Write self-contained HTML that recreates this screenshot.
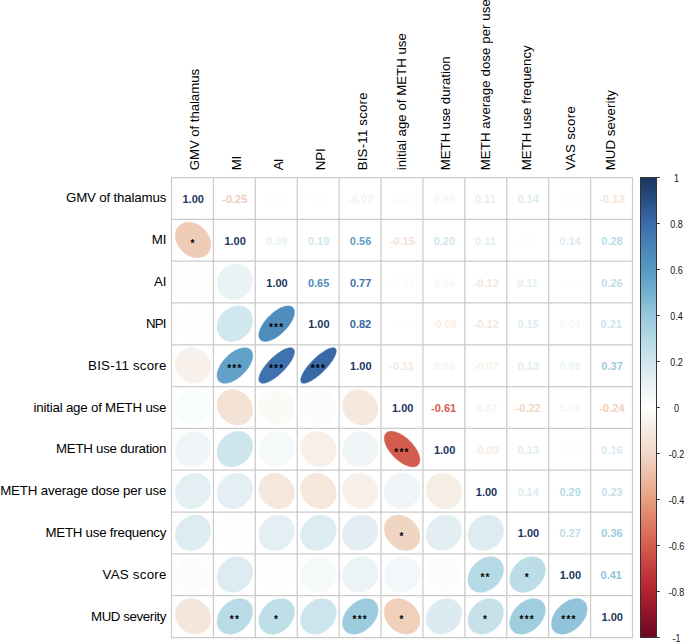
<!DOCTYPE html><html><head><meta charset="utf-8"><style>html,body{margin:0;padding:0;background:#fff;overflow:hidden}svg{display:block}text{font-family:"Liberation Sans",sans-serif}</style></head><body>
<svg width="685" height="642" viewBox="0 0 685 642">
<rect width="685" height="642" fill="#fff"/>
<path d="M203.96,229.14 203.04,228.27 202.07,227.44 201.07,226.66 200.03,225.94 198.97,225.27 197.88,224.67 196.77,224.13 195.65,223.65 194.51,223.24 193.37,222.90 192.23,222.63 191.09,222.43 189.96,222.31 188.85,222.26 187.75,222.28 186.67,222.37 185.62,222.54 184.59,222.77 183.61,223.08 182.66,223.46 181.75,223.91 180.89,224.42 180.09,225.00 179.33,225.64 178.63,226.33 177.99,227.09 177.41,227.89 176.90,228.75 176.45,229.65 176.07,230.60 175.76,231.58 175.53,232.60 175.36,233.65 175.27,234.73 175.24,235.83 175.30,236.94 175.42,238.07 175.62,239.21 175.89,240.35 176.23,241.48 176.64,242.62 177.12,243.74 177.66,244.84 178.27,245.93 178.93,246.99 179.66,248.02 180.44,249.02 181.27,249.99 182.15,250.91 183.07,251.79 184.04,252.62 185.04,253.40 186.08,254.12 187.14,254.78 188.23,255.39 189.34,255.93 190.46,256.41 191.60,256.81 192.74,257.15 193.88,257.42 195.02,257.62 196.15,257.75 197.26,257.80 198.36,257.78 199.44,257.68 200.49,257.52 201.52,257.28 202.50,256.97 203.45,256.59 204.36,256.15 205.21,255.63 206.02,255.06 206.78,254.42 207.48,253.72 208.12,252.97 208.70,252.16 209.21,251.30 209.66,250.40 210.04,249.45 210.35,248.47 210.58,247.45 210.75,246.40 210.84,245.32 210.86,244.23 210.81,243.11 210.69,241.98 210.49,240.85 210.22,239.71 209.88,238.57 209.47,237.44 208.99,236.32 208.45,235.21 207.84,234.13 207.18,233.06 206.45,232.03 205.67,231.03 204.84,230.07Z" fill="#EFCCB8" stroke="#EFCCB8" stroke-width="0.5"/>
<path d="M205.62,269.30 204.79,268.52 203.91,267.80 202.98,267.13 202.01,266.52 201.01,265.97 199.97,265.49 198.90,265.08 197.81,264.74 196.70,264.46 195.58,264.26 194.44,264.13 193.30,264.08 192.16,264.09 191.02,264.18 189.90,264.34 188.78,264.58 187.68,264.88 186.60,265.25 185.55,265.70 184.53,266.21 183.55,266.78 182.60,267.41 181.70,268.11 180.84,268.86 180.04,269.66 179.29,270.52 178.59,271.42 177.95,272.36 177.38,273.34 176.87,274.36 176.43,275.41 176.05,276.48 175.75,277.58 175.51,278.69 175.35,279.82 175.26,280.96 175.25,282.09 175.30,283.23 175.43,284.37 175.64,285.49 175.91,286.59 176.25,287.68 176.67,288.75 177.15,289.78 177.70,290.78 178.30,291.75 178.97,292.67 179.70,293.55 180.49,294.39 181.32,295.17 182.20,295.89 183.13,296.56 184.10,297.17 185.10,297.72 186.14,298.20 187.21,298.61 188.30,298.95 189.40,299.23 190.53,299.43 191.66,299.56 192.80,299.62 193.95,299.60 195.08,299.51 196.21,299.35 197.33,299.12 198.43,298.81 199.51,298.44 200.56,297.99 201.58,297.49 202.56,296.91 203.51,296.28 204.41,295.58 205.26,294.83 206.07,294.03 206.82,293.18 207.52,292.27 208.15,291.33 208.73,290.35 209.24,289.33 209.68,288.28 210.06,287.21 210.36,286.11 210.60,285.00 210.76,283.87 210.85,282.74 210.86,281.60 210.81,280.46 210.68,279.33 210.47,278.20 210.20,277.10 209.85,276.01 209.44,274.95 208.96,273.91 208.41,272.91 207.80,271.94 207.13,271.02 206.41,270.14Z" fill="#FEFEFD" stroke="#FEFEFD" stroke-width="0.5"/>
<path d="M248.01,268.72 247.22,267.98 246.37,267.30 245.47,266.68 244.54,266.11 243.56,265.62 242.54,265.18 241.50,264.82 240.42,264.53 239.33,264.31 238.22,264.16 237.09,264.08 235.95,264.08 234.81,264.15 233.67,264.29 232.53,264.51 231.41,264.79 230.29,265.15 229.20,265.57 228.13,266.06 227.09,266.62 226.08,267.24 225.10,267.92 224.17,268.65 223.28,269.44 222.43,270.28 221.64,271.17 220.90,272.10 220.22,273.08 219.60,274.09 219.05,275.13 218.55,276.19 218.13,277.29 217.77,278.40 217.49,279.52 217.27,280.65 217.13,281.79 217.06,282.93 217.06,284.06 217.14,285.19 217.29,286.30 217.51,287.39 217.80,288.47 218.17,289.51 218.60,290.52 219.10,291.50 219.66,292.43 220.29,293.33 220.97,294.17 221.71,294.97 222.51,295.71 223.36,296.39 224.25,297.02 225.19,297.58 226.17,298.08 227.18,298.51 228.23,298.87 229.30,299.16 230.40,299.38 231.51,299.53 232.64,299.61 233.78,299.61 234.92,299.54 236.06,299.40 237.19,299.18 238.32,298.90 239.43,298.54 240.53,298.12 241.60,297.63 242.64,297.07 243.65,296.45 244.63,295.77 245.56,295.04 246.45,294.25 247.29,293.41 248.09,292.52 248.82,291.59 249.50,290.61 250.12,289.61 250.68,288.56 251.17,287.50 251.60,286.41 251.95,285.30 252.24,284.17 252.46,283.04 252.60,281.90 252.67,280.76 252.66,279.63 252.59,278.50 252.44,277.39 252.22,276.30 251.92,275.23 251.56,274.18 251.13,273.17 250.63,272.19 250.07,271.26 249.44,270.37 248.76,269.52Z" fill="#E9F2F5" stroke="#E9F2F5" stroke-width="0.5"/>
<path d="M205.67,311.07 204.84,310.29 203.96,309.57 203.04,308.91 202.07,308.30 201.07,307.76 200.04,307.28 198.97,306.88 197.88,306.54 196.77,306.27 195.65,306.07 194.52,305.95 193.38,305.89 192.23,305.91 191.10,306.01 189.97,306.17 188.85,306.41 187.75,306.72 186.67,307.10 185.62,307.54 184.60,308.06 183.61,308.63 182.66,309.27 181.76,309.97 180.90,310.72 180.09,311.53 179.33,312.39 178.63,313.29 177.99,314.24 177.41,315.22 176.90,316.24 176.45,317.29 176.07,318.37 175.76,319.47 175.53,320.58 175.36,321.71 175.27,322.84 175.24,323.98 175.30,325.12 175.42,326.25 175.62,327.37 175.89,328.48 176.23,329.57 176.64,330.63 177.12,331.66 177.66,332.66 178.26,333.63 178.93,334.55 179.66,335.43 180.43,336.26 181.27,337.03 182.15,337.76 183.07,338.42 184.04,339.03 185.04,339.57 186.07,340.04 187.14,340.45 188.23,340.79 189.34,341.06 190.46,341.26 191.59,341.38 192.73,341.43 193.88,341.41 195.01,341.32 196.14,341.15 197.26,340.92 198.36,340.61 199.44,340.23 200.49,339.78 201.51,339.27 202.50,338.69 203.45,338.05 204.35,337.36 205.21,336.60 206.02,335.80 206.78,334.94 207.48,334.04 208.12,333.09 208.70,332.10 209.21,331.09 209.66,330.04 210.04,328.96 210.35,327.86 210.58,326.75 210.75,325.62 210.84,324.48 210.86,323.34 210.81,322.21 210.69,321.07 210.49,319.95 210.22,318.85 209.88,317.76 209.47,316.70 208.99,315.66 208.45,314.66 207.84,313.70 207.18,312.78 206.45,311.90Z" fill="#FEFEFE" stroke="#FEFEFE" stroke-width="0.5"/>
<path d="M248.60,309.95 247.85,309.26 247.04,308.62 246.18,308.05 245.28,307.53 244.33,307.09 243.34,306.71 242.32,306.40 241.27,306.17 240.19,306.00 239.09,305.91 237.98,305.89 236.85,305.95 235.71,306.07 234.57,306.27 233.43,306.54 232.29,306.88 231.17,307.29 230.06,307.77 228.97,308.31 227.91,308.92 226.87,309.59 225.87,310.31 224.90,311.09 223.97,311.92 223.09,312.80 222.26,313.72 221.48,314.69 220.76,315.69 220.09,316.72 219.48,317.78 218.94,318.87 218.46,319.98 218.05,321.10 217.71,322.23 217.44,323.37 217.24,324.51 217.11,325.64 217.05,326.77 217.07,327.89 217.17,328.98 217.33,330.06 217.57,331.11 217.88,332.13 218.25,333.11 218.70,334.06 219.21,334.96 219.79,335.81 220.43,336.62 221.12,337.37 221.88,338.07 222.69,338.71 223.54,339.28 224.45,339.79 225.40,340.24 226.38,340.62 227.40,340.92 228.45,341.16 229.53,341.32 230.63,341.42 231.75,341.43 232.88,341.38 234.02,341.25 235.16,341.05 236.30,340.78 237.43,340.44 238.56,340.03 239.67,339.56 240.76,339.01 241.82,338.41 242.86,337.74 243.86,337.02 244.83,336.24 245.75,335.41 246.63,334.53 247.47,333.61 248.25,332.64 248.97,331.64 249.64,330.61 250.25,329.54 250.79,328.46 251.27,327.35 251.68,326.23 252.02,325.10 252.29,323.96 252.49,322.82 252.62,321.68 252.67,320.56 252.65,319.44 252.56,318.34 252.40,317.27 252.16,316.22 251.85,315.20 251.47,314.22 251.03,313.27 250.52,312.37 249.94,311.51 249.30,310.71Z" fill="#D1E7EE" stroke="#D1E7EE" stroke-width="0.5"/>
<path d="M292.85,307.52 292.34,307.08 291.77,306.70 291.13,306.40 290.43,306.16 289.68,306.00 288.87,305.91 288.02,305.89 287.11,305.95 286.17,306.08 285.18,306.28 284.16,306.55 283.11,306.90 282.03,307.31 280.93,307.79 279.82,308.33 278.69,308.94 277.55,309.61 276.41,310.33 275.27,311.11 274.13,311.94 273.01,312.82 271.90,313.75 270.81,314.71 269.74,315.72 268.71,316.75 267.70,317.81 266.74,318.90 265.81,320.01 264.93,321.13 264.09,322.26 263.31,323.40 262.58,324.54 261.91,325.67 261.31,326.80 260.76,327.92 260.28,329.01 259.87,330.09 259.52,331.14 259.25,332.15 259.05,333.14 258.92,334.08 258.86,334.98 258.88,335.84 258.97,336.64 259.13,337.39 259.37,338.09 259.67,338.72 260.05,339.30 260.49,339.81 261.01,340.25 261.58,340.62 262.22,340.93 262.91,341.16 263.67,341.33 264.47,341.42 265.33,341.43 266.23,341.38 267.18,341.25 268.16,341.05 269.18,340.78 270.23,340.43 271.31,340.02 272.41,339.54 273.53,339.00 274.66,338.39 275.80,337.72 276.94,337.00 278.08,336.22 279.21,335.38 280.34,334.50 281.45,333.58 282.54,332.61 283.60,331.61 284.64,330.58 285.64,329.51 286.61,328.43 287.54,327.32 288.42,326.20 289.25,325.07 290.03,323.93 290.76,322.79 291.43,321.65 292.04,320.53 292.58,319.41 293.07,318.31 293.48,317.24 293.82,316.19 294.09,315.17 294.30,314.19 294.43,313.25 294.48,312.35 294.46,311.49 294.37,310.69 294.21,309.93 293.98,309.24 293.67,308.60 293.29,308.03Z" fill="#4F8DBD" stroke="#4F8DBD" stroke-width="0.5"/>
<path d="M205.20,353.36 204.34,352.55 203.43,351.80 202.49,351.10 201.50,350.46 200.48,349.88 199.42,349.37 198.34,348.92 197.24,348.54 196.13,348.23 195.00,347.99 193.86,347.83 192.72,347.73 191.58,347.71 190.44,347.76 189.32,347.89 188.21,348.08 187.12,348.35 186.06,348.69 185.02,349.10 184.02,349.57 183.06,350.11 182.13,350.71 181.25,351.38 180.42,352.10 179.64,352.88 178.92,353.71 178.26,354.58 177.65,355.50 177.11,356.47 176.63,357.47 176.23,358.50 175.89,359.56 175.62,360.65 175.42,361.75 175.30,362.87 175.24,364.01 175.27,365.14 175.36,366.28 175.53,367.42 175.77,368.55 176.08,369.66 176.46,370.76 176.91,371.84 177.42,372.89 178.00,373.91 178.64,374.89 179.34,375.84 180.10,376.74 180.91,377.60 181.77,378.41 182.67,379.16 183.62,379.86 184.61,380.50 185.63,381.08 186.69,381.59 187.76,382.04 188.86,382.42 189.98,382.73 191.11,382.97 192.25,383.14 193.39,383.23 194.53,383.25 195.67,383.20 196.79,383.08 197.90,382.88 198.99,382.61 200.05,382.27 201.09,381.87 202.09,381.39 203.05,380.85 203.98,380.25 204.86,379.59 205.69,378.86 206.47,378.09 207.19,377.26 207.85,376.38 208.46,375.46 209.00,374.50 209.48,373.50 209.88,372.46 210.22,371.40 210.49,370.32 210.69,369.21 210.81,368.09 210.86,366.96 210.84,365.82 210.75,364.68 210.58,363.54 210.34,362.42 210.03,361.30 209.65,360.20 209.20,359.13 208.69,358.08 208.11,357.06 207.47,356.07 206.77,355.12 206.01,354.22Z" fill="#F8F1EB" stroke="#F8F1EB" stroke-width="0.5"/>
<path d="M250.59,349.79 250.03,349.28 249.40,348.85 248.71,348.48 247.96,348.18 247.16,347.96 246.31,347.80 245.41,347.72 244.47,347.71 243.49,347.78 242.47,347.92 241.43,348.13 240.35,348.41 239.25,348.76 238.14,349.18 237.01,349.66 235.87,350.22 234.73,350.83 233.59,351.51 232.46,352.24 231.33,353.02 230.22,353.86 229.13,354.75 228.06,355.68 227.02,356.65 226.01,357.65 225.04,358.69 224.11,359.76 223.22,360.85 222.38,361.96 221.59,363.08 220.86,364.21 220.18,365.35 219.56,366.49 219.01,367.62 218.52,368.75 218.10,369.86 217.75,370.96 217.47,372.03 217.26,373.08 217.12,374.09 217.06,375.07 217.07,376.01 217.15,376.90 217.30,377.75 217.53,378.55 217.83,379.30 218.19,379.98 218.63,380.61 219.13,381.18 219.70,381.68 220.33,382.12 221.02,382.48 221.77,382.78 222.57,383.01 223.42,383.16 224.32,383.24 225.26,383.25 226.24,383.18 227.25,383.05 228.30,382.84 229.38,382.56 230.47,382.21 231.59,381.79 232.72,381.30 233.85,380.75 234.99,380.13 236.14,379.46 237.27,378.73 238.40,377.94 239.51,377.10 240.60,376.22 241.67,375.29 242.71,374.32 243.72,373.31 244.69,372.27 245.62,371.21 246.51,370.12 247.35,369.01 248.14,367.88 248.87,366.75 249.55,365.61 250.16,364.47 250.72,363.34 251.20,362.21 251.62,361.10 251.98,360.01 252.26,358.93 252.47,357.89 252.60,356.87 252.67,355.90 252.66,354.96 252.58,354.06 252.43,353.21 252.20,352.41 251.90,351.67 251.53,350.98 251.10,350.35Z" fill="#62A1C8" stroke="#62A1C8" stroke-width="0.5"/>
<path d="M293.43,348.76 293.01,348.41 292.52,348.13 291.97,347.92 291.35,347.78 290.67,347.71 289.94,347.72 289.15,347.80 288.31,347.96 287.42,348.18 286.49,348.48 285.52,348.84 284.51,349.28 283.47,349.78 282.40,350.35 281.31,350.97 280.19,351.66 279.07,352.40 277.93,353.20 276.79,354.05 275.65,354.95 274.51,355.89 273.38,356.86 272.27,357.88 271.17,358.92 270.10,359.99 269.05,361.09 268.04,362.20 267.06,363.33 266.11,364.46 265.22,365.60 264.37,366.74 263.57,367.87 262.82,369.00 262.13,370.10 261.50,371.19 260.94,372.26 260.43,373.30 260.00,374.31 259.63,375.28 259.33,376.21 259.11,377.09 258.96,377.93 258.87,378.72 258.87,379.45 258.93,380.13 259.07,380.74 259.28,381.29 259.56,381.78 259.92,382.20 260.34,382.55 260.83,382.83 261.38,383.05 262.00,383.18 262.67,383.25 263.41,383.24 264.20,383.16 265.04,383.01 265.92,382.78 266.86,382.49 267.83,382.12 268.84,381.69 269.88,381.18 270.95,380.62 272.04,379.99 273.15,379.30 274.28,378.56 275.41,377.76 276.55,376.91 277.70,376.02 278.83,375.08 279.96,374.10 281.08,373.09 282.17,372.04 283.25,370.97 284.29,369.88 285.31,368.76 286.29,367.64 287.23,366.50 288.13,365.36 288.98,364.23 289.78,363.09 290.52,361.97 291.21,360.86 291.84,359.77 292.41,358.70 292.91,357.66 293.35,356.66 293.71,355.69 294.01,354.76 294.24,353.87 294.39,353.03 294.47,352.25 294.48,351.51 294.41,350.84 294.27,350.22 294.06,349.67 293.78,349.18Z" fill="#3F72AF" stroke="#3F72AF" stroke-width="0.5"/>
<path d="M335.47,348.53 335.10,348.22 334.65,347.99 334.14,347.82 333.56,347.73 332.92,347.71 332.23,347.77 331.47,347.89 330.66,348.09 329.81,348.36 328.90,348.71 327.96,349.12 326.97,349.59 325.95,350.14 324.90,350.74 323.82,351.41 322.72,352.13 321.60,352.91 320.47,353.74 319.34,354.62 318.19,355.55 317.05,356.51 315.92,357.51 314.79,358.55 313.69,359.61 312.60,360.70 311.53,361.80 310.50,362.92 309.49,364.06 308.52,365.19 307.60,366.33 306.72,367.47 305.89,368.60 305.10,369.71 304.38,370.81 303.71,371.88 303.10,372.93 302.56,373.95 302.08,374.94 301.67,375.88 301.33,376.78 301.06,377.64 300.86,378.44 300.73,379.20 300.67,379.89 300.69,380.53 300.78,381.10 300.95,381.61 301.18,382.06 301.49,382.44 301.87,382.74 302.31,382.98 302.83,383.14 303.40,383.23 304.04,383.25 304.74,383.20 305.49,383.07 306.30,382.87 307.16,382.60 308.06,382.26 309.01,381.85 309.99,381.37 311.01,380.83 312.07,380.22 313.14,379.55 314.24,378.83 315.36,378.05 316.49,377.22 317.63,376.34 318.77,375.42 319.91,374.45 321.04,373.45 322.17,372.42 323.28,371.35 324.37,370.27 325.43,369.16 326.47,368.04 327.47,366.91 328.44,365.77 329.36,364.63 330.25,363.49 331.08,362.37 331.86,361.25 332.59,360.16 333.25,359.08 333.86,358.03 334.40,357.01 334.88,356.03 335.29,355.08 335.64,354.18 335.91,353.33 336.11,352.52 336.24,351.77 336.29,351.07 336.27,350.43 336.18,349.86 336.02,349.35 335.78,348.90Z" fill="#3968A6" stroke="#3968A6" stroke-width="0.5"/>
<path d="M205.77,394.61 204.95,393.84 204.08,393.12 203.16,392.46 202.20,391.87 201.20,391.33 200.17,390.87 199.11,390.47 198.02,390.14 196.91,389.88 195.79,389.69 194.66,389.57 193.52,389.53 192.38,389.56 191.24,389.66 190.11,389.83 188.99,390.08 187.88,390.40 186.80,390.79 185.75,391.24 184.72,391.76 183.73,392.35 182.78,392.99 181.87,393.70 181.00,394.46 180.19,395.27 179.42,396.14 178.72,397.04 178.07,398.00 177.48,398.98 176.96,400.01 176.50,401.06 176.12,402.14 175.80,403.24 175.55,404.36 175.38,405.49 175.27,406.62 175.24,407.76 175.29,408.90 175.40,410.03 175.59,411.15 175.85,412.25 176.18,413.34 176.59,414.40 177.05,415.43 177.59,416.42 178.19,417.38 178.84,418.30 179.56,419.17 180.33,419.99 181.16,420.76 182.03,421.48 182.95,422.14 183.91,422.73 184.91,423.27 185.94,423.73 187.00,424.13 188.09,424.46 189.20,424.72 190.32,424.91 191.45,425.03 192.59,425.07 193.73,425.04 194.87,424.94 196.00,424.77 197.12,424.52 198.23,424.20 199.31,423.81 200.36,423.36 201.39,422.84 202.38,422.25 203.33,421.61 204.24,420.90 205.11,420.14 205.92,419.33 206.69,418.46 207.39,417.56 208.04,416.60 208.63,415.62 209.15,414.59 209.60,413.54 209.99,412.46 210.31,411.36 210.56,410.24 210.73,409.11 210.84,407.98 210.87,406.84 210.82,405.70 210.71,404.57 210.52,403.45 210.26,402.35 209.92,401.26 209.52,400.20 209.06,399.17 208.52,398.18 207.92,397.22 207.26,396.30 206.55,395.43Z" fill="#F9FCFC" stroke="#F9FCFC" stroke-width="0.5"/>
<path d="M246.48,395.71 245.59,394.87 244.65,394.09 243.68,393.35 242.67,392.67 241.63,392.06 240.56,391.50 239.47,391.01 238.35,390.59 237.23,390.24 236.09,389.95 234.95,389.74 233.81,389.60 232.67,389.53 231.54,389.54 230.43,389.62 229.33,389.77 228.26,389.99 227.21,390.29 226.20,390.65 225.22,391.08 224.28,391.58 223.38,392.15 222.53,392.77 221.74,393.46 220.99,394.20 220.30,395.00 219.68,395.85 219.11,396.74 218.61,397.68 218.18,398.65 217.81,399.67 217.52,400.71 217.29,401.78 217.14,402.88 217.06,403.99 217.06,405.11 217.13,406.25 217.27,407.39 217.48,408.52 217.76,409.66 218.12,410.78 218.54,411.89 219.03,412.98 219.59,414.05 220.21,415.09 220.88,416.10 221.62,417.07 222.41,418.00 223.25,418.89 224.14,419.73 225.07,420.51 226.05,421.25 227.06,421.93 228.10,422.54 229.17,423.10 230.26,423.59 231.37,424.01 232.50,424.36 233.64,424.65 234.78,424.86 235.92,425.00 237.06,425.07 238.18,425.06 239.30,424.98 240.39,424.83 241.47,424.61 242.51,424.31 243.53,423.95 244.51,423.52 245.45,423.02 246.34,422.45 247.19,421.83 247.99,421.14 248.74,420.40 249.42,419.60 250.05,418.75 250.61,417.86 251.12,416.92 251.55,415.95 251.91,414.93 252.21,413.89 252.43,412.82 252.58,411.72 252.66,410.61 252.67,409.49 252.60,408.35 252.46,407.21 252.25,406.08 251.96,404.94 251.61,403.82 251.19,402.71 250.70,401.62 250.14,400.55 249.52,399.51 248.84,398.50 248.11,397.53 247.32,396.60Z" fill="#F4E2D5" stroke="#F4E2D5" stroke-width="0.5"/>
<path d="M289.08,394.92 288.23,394.13 287.34,393.39 286.40,392.71 285.43,392.09 284.42,391.53 283.37,391.04 282.30,390.61 281.21,390.26 280.10,389.97 278.97,389.75 277.83,389.61 276.69,389.54 275.55,389.54 274.41,389.61 273.29,389.76 272.17,389.98 271.08,390.27 270.01,390.63 268.96,391.06 267.95,391.55 266.97,392.11 266.03,392.73 265.14,393.42 264.29,394.16 263.50,394.95 262.76,395.79 262.07,396.68 261.45,397.62 260.89,398.59 260.39,399.61 259.96,400.65 259.60,401.72 259.31,402.81 259.09,403.92 258.95,405.05 258.87,406.18 258.87,407.32 258.94,408.46 259.09,409.59 259.30,410.72 259.59,411.83 259.95,412.92 260.38,413.99 260.87,415.03 261.43,416.04 262.05,417.01 262.74,417.94 263.48,418.83 264.27,419.68 265.11,420.47 266.00,421.21 266.94,421.89 267.92,422.51 268.93,423.07 269.97,423.56 271.04,423.99 272.14,424.34 273.25,424.63 274.38,424.85 275.51,424.99 276.65,425.06 277.80,425.06 278.93,424.99 280.06,424.84 281.17,424.62 282.27,424.33 283.34,423.97 284.38,423.54 285.40,423.05 286.37,422.49 287.31,421.87 288.20,421.18 289.05,420.44 289.85,419.65 290.59,418.81 291.27,417.92 291.89,416.98 292.46,416.01 292.95,414.99 293.38,413.95 293.74,412.88 294.03,411.79 294.25,410.68 294.40,409.55 294.47,408.42 294.48,407.28 294.40,406.14 294.26,405.01 294.04,403.88 293.75,402.77 293.39,401.68 292.97,400.61 292.47,399.57 291.91,398.56 291.29,397.59 290.61,396.66 289.87,395.77Z" fill="#FCFAF7" stroke="#FCFAF7" stroke-width="0.5"/>
<path d="M330.95,394.86 330.11,394.07 329.22,393.34 328.29,392.66 327.32,392.05 326.31,391.49 325.27,391.01 324.20,390.58 323.10,390.23 321.99,389.95 320.87,389.74 319.73,389.60 318.59,389.53 317.45,389.54 316.31,389.62 315.18,389.77 314.07,390.00 312.97,390.29 311.90,390.66 310.85,391.09 309.84,391.59 308.86,392.16 307.91,392.78 307.02,393.47 306.17,394.22 305.37,395.01 304.62,395.86 303.94,396.76 303.31,397.69 302.74,398.67 302.24,399.69 301.80,400.73 301.44,401.80 301.14,402.90 300.92,404.01 300.76,405.13 300.68,406.27 300.68,407.41 300.74,408.55 300.88,409.68 301.09,410.80 301.38,411.91 301.73,413.00 302.15,414.07 302.64,415.11 303.20,416.11 303.81,417.09 304.49,418.02 305.22,418.90 306.01,419.74 306.85,420.53 307.74,421.26 308.68,421.94 309.65,422.55 310.66,423.11 311.70,423.59 312.77,424.02 313.86,424.37 314.97,424.65 316.10,424.86 317.23,425.00 318.37,425.07 319.52,425.06 320.65,424.98 321.78,424.83 322.90,424.60 323.99,424.31 325.07,423.94 326.11,423.51 327.13,423.01 328.11,422.44 329.05,421.82 329.95,421.13 330.80,420.38 331.59,419.59 332.34,418.74 333.03,417.84 333.66,416.91 334.22,415.93 334.72,414.91 335.16,413.87 335.53,412.80 335.82,411.70 336.05,410.59 336.20,409.47 336.28,408.33 336.29,407.19 336.22,406.05 336.08,404.92 335.87,403.80 335.59,402.69 335.23,401.60 334.81,400.53 334.32,399.49 333.77,398.49 333.15,397.51 332.47,396.58 331.74,395.70Z" fill="#FEFCFA" stroke="#FEFCFA" stroke-width="0.5"/>
<path d="M372.17,395.44 371.30,394.62 370.38,393.85 369.42,393.13 368.42,392.47 367.39,391.88 366.32,391.34 365.24,390.87 364.13,390.47 363.01,390.14 361.88,389.88 360.74,389.69 359.59,389.57 358.46,389.53 357.32,389.56 356.21,389.66 355.10,389.83 354.02,390.08 352.97,390.39 351.94,390.78 350.95,391.23 350.00,391.75 349.09,392.34 348.22,392.98 347.41,393.69 346.65,394.45 345.94,395.26 345.30,396.12 344.71,397.03 344.19,397.98 343.73,398.97 343.35,399.99 343.03,401.04 342.78,402.12 342.61,403.22 342.51,404.34 342.48,405.47 342.52,406.61 342.64,407.74 342.83,408.88 343.09,410.01 343.43,411.13 343.83,412.24 344.30,413.32 344.83,414.38 345.43,415.41 346.09,416.41 346.81,417.37 347.58,418.28 348.41,419.16 349.28,419.98 350.20,420.75 351.16,421.47 352.16,422.13 353.20,422.72 354.26,423.26 355.34,423.73 356.45,424.13 357.57,424.46 358.71,424.72 359.85,424.91 360.99,425.03 362.13,425.07 363.26,425.04 364.38,424.94 365.48,424.77 366.56,424.52 367.61,424.21 368.64,423.82 369.63,423.37 370.58,422.85 371.49,422.26 372.36,421.62 373.17,420.91 373.93,420.15 374.64,419.34 375.29,418.48 375.87,417.57 376.39,416.62 376.85,415.63 377.23,414.61 377.55,413.56 377.80,412.48 377.97,411.38 378.07,410.26 378.10,409.13 378.06,407.99 377.94,406.86 377.75,405.72 377.49,404.59 377.16,403.47 376.75,402.36 376.28,401.28 375.75,400.22 375.15,399.19 374.49,398.19 373.77,397.23 373.00,396.32Z" fill="#F5E9DF" stroke="#F5E9DF" stroke-width="0.5"/>
<path d="M206.02,436.18 205.21,435.43 204.35,434.73 203.45,434.09 202.50,433.51 201.51,433.00 200.49,432.55 199.44,432.17 198.36,431.87 197.26,431.63 196.14,431.46 195.01,431.37 193.87,431.35 192.73,431.40 191.59,431.52 190.46,431.72 189.33,431.99 188.23,432.33 187.14,432.74 186.07,433.21 185.04,433.76 184.04,434.36 183.07,435.02 182.15,435.75 181.27,436.53 180.43,437.35 179.65,438.23 178.93,439.16 178.26,440.12 177.66,441.12 177.12,442.15 176.64,443.21 176.23,444.30 175.89,445.41 175.62,446.53 175.42,447.66 175.30,448.80 175.24,449.94 175.27,451.07 175.36,452.20 175.53,453.31 175.76,454.41 176.07,455.49 176.45,456.54 176.90,457.56 177.41,458.54 177.99,459.49 178.63,460.39 179.33,461.25 180.09,462.06 180.90,462.81 181.76,463.51 182.66,464.15 183.61,464.72 184.60,465.24 185.62,465.68 186.67,466.06 187.75,466.37 188.85,466.61 189.97,466.78 191.10,466.87 192.23,466.89 193.38,466.84 194.52,466.71 195.65,466.51 196.77,466.24 197.88,465.91 198.97,465.50 200.04,465.02 201.07,464.48 202.07,463.88 203.04,463.21 203.96,462.49 204.84,461.71 205.67,460.88 206.45,460.00 207.18,459.08 207.84,458.12 208.45,457.12 208.99,456.08 209.47,455.02 209.88,453.94 210.22,452.83 210.49,451.71 210.69,450.58 210.81,449.44 210.86,448.30 210.84,447.16 210.75,446.04 210.58,444.92 210.34,443.82 210.04,442.75 209.66,441.70 209.21,440.68 208.69,439.69 208.12,438.75 207.48,437.84 206.78,436.99Z" fill="#F0F6F8" stroke="#F0F6F8" stroke-width="0.5"/>
<path d="M248.66,435.35 247.91,434.66 247.11,434.03 246.25,433.46 245.35,432.95 244.41,432.51 243.42,432.14 242.41,431.84 241.36,431.61 240.28,431.45 239.18,431.36 238.07,431.35 236.94,431.41 235.80,431.54 234.66,431.75 233.52,432.02 232.38,432.37 231.26,432.78 230.15,433.27 229.06,433.81 227.99,434.43 226.95,435.10 225.95,435.82 224.98,436.61 224.05,437.44 223.16,438.32 222.33,439.25 221.54,440.22 220.81,441.22 220.14,442.26 219.53,443.32 218.98,444.41 218.49,445.52 218.08,446.64 217.73,447.78 217.45,448.91 217.25,450.05 217.12,451.19 217.06,452.31 217.07,453.43 217.16,454.52 217.31,455.60 217.55,456.64 217.85,457.66 218.22,458.64 218.66,459.58 219.17,460.48 219.74,461.33 220.37,462.14 221.07,462.88 221.82,463.58 222.62,464.21 223.47,464.78 224.38,465.29 225.32,465.73 226.30,466.10 227.32,466.40 228.37,466.63 229.45,466.79 230.54,466.87 231.66,466.89 232.79,466.83 233.93,466.69 235.07,466.49 236.21,466.21 237.34,465.87 238.47,465.45 239.58,464.97 240.67,464.42 241.74,463.81 242.78,463.14 243.78,462.41 244.75,461.63 245.68,460.79 246.56,459.91 247.40,458.98 248.19,458.02 248.92,457.01 249.59,455.98 250.20,454.91 250.75,453.82 251.23,452.72 251.65,451.59 252.00,450.46 252.27,449.32 252.48,448.18 252.61,447.05 252.67,445.92 252.66,444.81 252.57,443.71 252.41,442.64 252.18,441.59 251.88,440.58 251.51,439.59 251.07,438.65 250.56,437.75 249.99,436.90 249.35,436.10Z" fill="#CFE5EE" stroke="#CFE5EE" stroke-width="0.5"/>
<path d="M289.52,436.30 288.70,435.54 287.83,434.83 286.92,434.18 285.97,433.60 284.97,433.07 283.95,432.62 282.89,432.23 281.81,431.91 280.71,431.66 279.59,431.48 278.45,431.38 277.31,431.35 276.17,431.39 275.03,431.50 273.90,431.69 272.78,431.94 271.67,432.27 270.59,432.67 269.53,433.14 268.50,433.67 267.50,434.26 266.54,434.92 265.62,435.63 264.75,436.40 263.93,437.22 263.16,438.09 262.44,439.01 261.78,439.97 261.19,440.96 260.66,441.99 260.19,443.05 259.79,444.13 259.46,445.23 259.20,446.35 259.02,447.48 258.90,448.62 258.86,449.76 258.89,450.90 259.00,452.02 259.18,453.14 259.43,454.24 259.75,455.32 260.14,456.38 260.59,457.40 261.12,458.39 261.71,459.34 262.36,460.25 263.06,461.12 263.83,461.93 264.65,462.70 265.51,463.40 266.42,464.05 267.38,464.64 268.37,465.16 269.40,465.62 270.45,466.01 271.54,466.33 272.64,466.58 273.76,466.75 274.89,466.86 276.03,466.89 277.17,466.85 278.31,466.74 279.45,466.55 280.57,466.29 281.67,465.96 282.76,465.57 283.82,465.10 284.85,464.57 285.85,463.97 286.80,463.32 287.72,462.61 288.59,461.84 289.42,461.01 290.19,460.14 290.90,459.23 291.56,458.27 292.16,457.28 292.69,456.25 293.16,455.19 293.55,454.11 293.88,453.00 294.14,451.88 294.33,450.75 294.44,449.62 294.48,448.48 294.45,447.34 294.35,446.21 294.17,445.09 293.92,443.99 293.60,442.91 293.21,441.86 292.75,440.84 292.23,439.84 291.64,438.89 290.99,437.98 290.28,437.12Z" fill="#F5F9FA" stroke="#F5F9FA" stroke-width="0.5"/>
<path d="M330.56,437.06 329.70,436.25 328.79,435.49 327.84,434.79 326.85,434.15 325.82,433.56 324.77,433.04 323.69,432.59 322.58,432.21 321.47,431.89 320.33,431.65 319.20,431.47 318.05,431.37 316.91,431.35 315.78,431.39 314.66,431.51 313.55,431.70 312.47,431.96 311.40,432.30 310.37,432.70 309.37,433.17 308.41,433.70 307.49,434.30 306.61,434.96 305.79,435.68 305.01,436.45 304.29,437.28 303.63,438.15 303.03,439.07 302.50,440.03 302.03,441.02 301.62,442.06 301.29,443.11 301.03,444.20 300.84,445.30 300.72,446.42 300.67,447.55 300.70,448.69 300.80,449.83 300.97,450.97 301.22,452.10 301.53,453.21 301.92,454.31 302.37,455.39 302.89,456.44 303.48,457.47 304.12,458.45 304.83,459.40 305.59,460.31 306.40,461.17 307.26,461.98 308.17,462.74 309.13,463.45 310.12,464.09 311.14,464.67 312.20,465.19 313.28,465.65 314.38,466.03 315.50,466.35 316.63,466.59 317.77,466.76 318.91,466.86 320.05,466.89 321.18,466.84 322.31,466.73 323.41,466.54 324.50,466.27 325.56,465.94 326.59,465.54 327.59,465.07 328.55,464.53 329.47,463.93 330.35,463.28 331.18,462.56 331.95,461.79 332.67,460.96 333.33,460.09 333.93,459.17 334.47,458.21 334.94,457.21 335.34,456.18 335.67,455.12 335.94,454.04 336.13,452.93 336.25,451.81 336.29,450.68 336.27,449.54 336.16,448.41 335.99,447.27 335.75,446.14 335.43,445.02 335.04,443.92 334.59,442.85 334.07,441.79 333.49,440.77 332.84,439.78 332.14,438.83 331.38,437.93Z" fill="#F8EFE8" stroke="#F8EFE8" stroke-width="0.5"/>
<path d="M373.26,436.18 372.45,435.43 371.59,434.73 370.68,434.09 369.74,433.51 368.75,433.00 367.73,432.55 366.68,432.17 365.60,431.87 364.50,431.63 363.38,431.46 362.25,431.37 361.11,431.35 359.97,431.40 358.83,431.52 357.69,431.72 356.57,431.99 355.46,432.33 354.37,432.74 353.31,433.21 352.27,433.76 351.27,434.36 350.31,435.02 349.38,435.75 348.50,436.53 347.67,437.35 346.89,438.23 346.17,439.16 345.50,440.12 344.90,441.12 344.35,442.15 343.88,443.21 343.47,444.30 343.13,445.41 342.86,446.53 342.66,447.66 342.53,448.80 342.48,449.94 342.50,451.07 342.60,452.20 342.76,453.31 343.00,454.41 343.31,455.49 343.69,456.54 344.14,457.56 344.65,458.54 345.23,459.49 345.87,460.39 346.57,461.25 347.32,462.06 348.13,462.81 348.99,463.51 349.90,464.15 350.85,464.72 351.83,465.24 352.85,465.68 353.91,466.06 354.98,466.37 356.08,466.61 357.20,466.78 358.33,466.87 359.47,466.89 360.61,466.84 361.75,466.71 362.89,466.51 364.01,466.24 365.12,465.91 366.21,465.50 367.27,465.02 368.31,464.48 369.31,463.88 370.28,463.21 371.20,462.49 372.08,461.71 372.91,460.88 373.69,460.00 374.41,459.08 375.08,458.12 375.69,457.12 376.23,456.08 376.71,455.02 377.11,453.94 377.45,452.83 377.72,451.71 377.92,450.58 378.05,449.44 378.10,448.30 378.08,447.16 377.99,446.04 377.82,444.92 377.58,443.82 377.27,442.75 376.89,441.70 376.44,440.68 375.93,439.69 375.35,438.75 374.71,437.84 374.01,436.99Z" fill="#F0F6F8" stroke="#F0F6F8" stroke-width="0.5"/>
<path d="M409.97,441.27 408.93,440.26 407.86,439.30 406.77,438.37 405.65,437.48 404.53,436.65 403.39,435.86 402.25,435.13 401.11,434.45 399.97,433.84 398.85,433.29 397.73,432.81 396.63,432.39 395.56,432.04 394.51,431.76 393.49,431.55 392.51,431.41 391.57,431.35 390.67,431.36 389.82,431.44 389.02,431.60 388.27,431.83 387.58,432.12 386.95,432.49 386.38,432.93 385.88,433.43 385.44,434.00 385.07,434.63 384.77,435.32 384.54,436.06 384.39,436.86 384.30,437.71 384.29,438.61 384.36,439.55 384.49,440.53 384.70,441.54 384.98,442.59 385.33,443.66 385.75,444.76 386.24,445.87 386.79,447.00 387.40,448.13 388.08,449.27 388.81,450.41 389.60,451.54 390.44,452.66 391.32,453.77 392.26,454.86 393.23,455.93 394.23,456.97 395.27,457.97 396.34,458.94 397.43,459.87 398.55,460.75 399.67,461.59 400.81,462.38 401.95,463.11 403.09,463.78 404.23,464.39 405.35,464.95 406.47,465.43 407.57,465.85 408.64,466.20 409.69,466.48 410.71,466.69 411.69,466.82 412.63,466.89 413.53,466.88 414.38,466.79 415.18,466.64 415.93,466.41 416.62,466.11 417.25,465.74 417.82,465.31 418.32,464.80 418.76,464.24 419.13,463.61 419.43,462.92 419.66,462.17 419.81,461.37 419.90,460.52 419.91,459.63 419.84,458.69 419.71,457.71 419.50,456.69 419.22,455.65 418.87,454.57 418.45,453.48 417.96,452.37 417.41,451.24 416.80,450.10 416.12,448.97 415.39,447.83 414.60,446.69 413.76,445.57 412.88,444.46 411.94,443.37 410.97,442.31Z" fill="#D25C4E" stroke="#D25C4E" stroke-width="0.5"/>
<path d="M206.32,477.70 205.54,476.96 204.70,476.29 203.81,475.67 202.88,475.12 201.90,474.63 200.90,474.21 199.85,473.86 198.79,473.58 197.69,473.37 196.58,473.23 195.46,473.17 194.32,473.18 193.18,473.26 192.04,473.41 190.90,473.64 189.77,473.93 188.66,474.30 187.56,474.74 186.49,475.24 185.44,475.80 184.42,476.43 183.44,477.12 182.50,477.86 181.60,478.66 180.75,479.51 179.95,480.41 179.21,481.35 178.52,482.32 177.89,483.34 177.32,484.38 176.82,485.45 176.38,486.55 176.02,487.66 175.72,488.79 175.49,489.92 175.34,491.06 175.26,492.20 175.25,493.33 175.31,494.46 175.45,495.57 175.66,496.66 175.94,497.72 176.30,498.76 176.72,499.77 177.21,500.74 177.76,501.67 178.37,502.55 179.05,503.39 179.79,504.18 180.57,504.91 181.41,505.58 182.30,506.20 183.23,506.75 184.21,507.24 185.21,507.66 186.25,508.01 187.32,508.29 188.42,508.50 189.53,508.64 190.65,508.70 191.79,508.70 192.93,508.61 194.07,508.46 195.21,508.24 196.34,507.94 197.45,507.57 198.55,507.14 199.62,506.64 200.67,506.07 201.69,505.44 202.67,504.75 203.61,504.01 204.50,503.21 205.36,502.36 206.16,501.47 206.90,500.53 207.59,499.55 208.22,498.53 208.79,497.49 209.29,496.42 209.73,495.32 210.09,494.21 210.39,493.09 210.62,491.95 210.77,490.81 210.85,489.67 210.86,488.54 210.80,487.42 210.66,486.31 210.45,485.22 210.16,484.15 209.81,483.11 209.39,482.11 208.90,481.14 208.35,480.21 207.73,479.32 207.06,478.48Z" fill="#E4EFF3" stroke="#E4EFF3" stroke-width="0.5"/>
<path d="M248.13,477.70 247.34,476.96 246.50,476.29 245.62,475.67 244.68,475.12 243.71,474.63 242.70,474.21 241.66,473.86 240.59,473.58 239.50,473.37 238.39,473.23 237.27,473.17 236.13,473.18 234.99,473.26 233.85,473.41 232.71,473.64 231.58,473.93 230.47,474.30 229.37,474.74 228.30,475.24 227.25,475.80 226.23,476.43 225.25,477.12 224.31,477.86 223.41,478.66 222.56,479.51 221.76,480.41 221.02,481.35 220.33,482.32 219.70,483.34 219.13,484.38 218.63,485.45 218.19,486.55 217.82,487.66 217.53,488.79 217.30,489.92 217.15,491.06 217.07,492.20 217.06,493.33 217.12,494.46 217.26,495.57 217.47,496.66 217.75,497.72 218.11,498.76 218.53,499.77 219.01,500.74 219.57,501.67 220.18,502.55 220.86,503.39 221.59,504.18 222.38,504.91 223.22,505.58 224.11,506.20 225.04,506.75 226.01,507.24 227.02,507.66 228.06,508.01 229.13,508.29 230.22,508.50 231.34,508.64 232.46,508.70 233.60,508.70 234.74,508.61 235.88,508.46 237.02,508.24 238.15,507.94 239.26,507.57 240.36,507.14 241.43,506.64 242.48,506.07 243.49,505.44 244.48,504.75 245.42,504.01 246.31,503.21 247.16,502.36 247.96,501.47 248.71,500.53 249.40,499.55 250.03,498.53 250.60,497.49 251.10,496.42 251.54,495.32 251.90,494.21 252.20,493.09 252.43,491.95 252.58,490.81 252.66,489.67 252.67,488.54 252.60,487.42 252.47,486.31 252.26,485.22 251.97,484.15 251.62,483.11 251.20,482.11 250.71,481.14 250.16,480.21 249.54,479.32 248.87,478.48Z" fill="#E4EFF3" stroke="#E4EFF3" stroke-width="0.5"/>
<path d="M288.49,479.15 287.61,478.32 286.69,477.54 285.72,476.82 284.72,476.16 283.69,475.56 282.62,475.02 281.53,474.54 280.43,474.14 279.30,473.80 278.17,473.53 277.03,473.34 275.89,473.22 274.75,473.16 273.62,473.19 272.50,473.28 271.40,473.45 270.32,473.69 269.27,474.00 268.24,474.38 267.26,474.83 266.31,475.35 265.40,475.93 264.54,476.57 263.73,477.27 262.97,478.02 262.27,478.83 261.63,479.69 261.05,480.59 260.53,481.54 260.08,482.53 259.70,483.55 259.39,484.60 259.15,485.67 258.98,486.77 258.89,487.89 258.86,489.02 258.91,490.15 259.04,491.29 259.23,492.43 259.50,493.56 259.84,494.68 260.24,495.79 260.72,496.87 261.26,497.93 261.86,498.97 262.53,499.97 263.25,500.93 264.03,501.85 264.86,502.73 265.74,503.55 266.66,504.33 267.62,505.05 268.63,505.71 269.66,506.32 270.72,506.85 271.81,507.33 272.92,507.73 274.04,508.07 275.18,508.34 276.32,508.53 277.46,508.66 278.60,508.71 279.73,508.69 280.85,508.59 281.95,508.42 283.03,508.18 284.08,507.87 285.10,507.49 286.09,507.04 287.04,506.53 287.95,505.95 288.81,505.31 289.62,504.61 290.37,503.85 291.07,503.04 291.72,502.18 292.30,501.28 292.81,500.33 293.26,499.35 293.64,498.33 293.95,497.28 294.20,496.20 294.36,495.10 294.46,493.98 294.48,492.86 294.43,491.72 294.31,490.58 294.11,489.44 293.85,488.31 293.51,487.19 293.10,486.09 292.63,485.00 292.09,483.94 291.48,482.91 290.82,481.91 290.09,480.94 289.32,480.02Z" fill="#F5E7DC" stroke="#F5E7DC" stroke-width="0.5"/>
<path d="M330.30,479.15 329.42,478.32 328.50,477.54 327.53,476.82 326.53,476.16 325.49,475.56 324.43,475.02 323.34,474.54 322.24,474.14 321.11,473.80 319.98,473.53 318.84,473.34 317.70,473.22 316.56,473.16 315.43,473.19 314.31,473.28 313.21,473.45 312.13,473.69 311.08,474.00 310.05,474.38 309.07,474.83 308.12,475.35 307.21,475.93 306.35,476.57 305.54,477.27 304.78,478.02 304.08,478.83 303.44,479.69 302.86,480.59 302.34,481.54 301.89,482.53 301.51,483.55 301.20,484.60 300.96,485.67 300.79,486.77 300.69,487.89 300.67,489.02 300.72,490.15 300.85,491.29 301.04,492.43 301.31,493.56 301.65,494.68 302.05,495.79 302.53,496.87 303.07,497.93 303.67,498.97 304.34,499.97 305.06,500.93 305.84,501.85 306.67,502.73 307.55,503.55 308.47,504.33 309.43,505.05 310.43,505.71 311.47,506.32 312.53,506.85 313.62,507.33 314.73,507.73 315.85,508.07 316.99,508.34 318.13,508.53 319.27,508.66 320.41,508.71 321.54,508.69 322.65,508.59 323.76,508.42 324.83,508.18 325.89,507.87 326.91,507.49 327.90,507.04 328.85,506.53 329.75,505.95 330.61,505.31 331.43,504.61 332.18,503.85 332.88,503.04 333.53,502.18 334.11,501.28 334.62,500.33 335.07,499.35 335.45,498.33 335.76,497.28 336.00,496.20 336.17,495.10 336.27,493.98 336.29,492.86 336.24,491.72 336.12,490.58 335.92,489.44 335.65,488.31 335.32,487.19 334.91,486.09 334.43,485.00 333.89,483.94 333.29,482.91 332.63,481.91 331.90,480.94 331.13,480.02Z" fill="#F5E7DC" stroke="#F5E7DC" stroke-width="0.5"/>
<path d="M372.44,478.82 371.58,478.01 370.67,477.25 369.72,476.56 368.73,475.92 367.71,475.34 366.66,474.82 365.58,474.38 364.48,474.00 363.36,473.69 362.23,473.45 361.09,473.28 359.95,473.19 358.81,473.17 357.68,473.22 356.55,473.34 355.45,473.54 354.36,473.81 353.29,474.14 352.26,474.55 351.26,475.03 350.29,475.57 349.37,476.17 348.49,476.83 347.66,477.55 346.88,478.33 346.16,479.16 345.49,480.04 344.89,480.96 344.35,481.92 343.87,482.92 343.46,483.96 343.12,485.02 342.85,486.10 342.66,487.21 342.53,488.33 342.48,489.46 342.50,490.60 342.60,491.74 342.77,492.87 343.00,494.00 343.32,495.12 343.70,496.22 344.14,497.29 344.66,498.34 345.24,499.36 345.88,500.35 346.58,501.29 347.34,502.20 348.15,503.06 349.00,503.86 349.91,504.62 350.86,505.32 351.85,505.96 352.87,506.53 353.92,507.05 355.00,507.50 356.10,507.88 357.22,508.19 358.35,508.42 359.49,508.59 360.63,508.69 361.77,508.71 362.90,508.66 364.03,508.53 365.14,508.34 366.22,508.07 367.29,507.73 368.32,507.32 369.32,506.85 370.29,506.31 371.21,505.70 372.09,505.04 372.92,504.32 373.70,503.54 374.42,502.71 375.09,501.84 375.69,500.91 376.24,499.95 376.71,498.95 377.12,497.92 377.46,496.86 377.73,495.77 377.92,494.66 378.05,493.54 378.10,492.41 378.08,491.27 377.98,490.13 377.82,489.00 377.58,487.87 377.27,486.76 376.89,485.66 376.44,484.58 375.92,483.53 375.34,482.51 374.70,481.53 374.00,480.58 373.25,479.67Z" fill="#F8F1EB" stroke="#F8F1EB" stroke-width="0.5"/>
<path d="M415.13,477.94 414.32,477.19 413.47,476.49 412.57,475.86 411.62,475.29 410.64,474.78 409.62,474.34 408.57,473.97 407.49,473.66 406.39,473.43 405.28,473.27 404.15,473.18 403.01,473.17 401.87,473.22 400.73,473.36 399.59,473.56 398.47,473.83 397.36,474.18 396.27,474.59 395.20,475.07 394.16,475.62 393.16,476.23 392.19,476.90 391.26,477.62 390.38,478.41 389.54,479.24 388.76,480.12 388.03,481.05 387.36,482.01 386.75,483.02 386.20,484.05 385.72,485.12 385.31,486.20 384.96,487.31 384.68,488.43 384.48,489.57 384.35,490.70 384.29,491.84 384.31,492.98 384.39,494.11 384.56,495.22 384.79,496.32 385.09,497.39 385.47,498.44 385.91,499.45 386.42,500.44 386.99,501.38 387.63,502.28 388.32,503.13 389.07,503.94 389.88,504.69 390.73,505.38 391.63,506.01 392.58,506.58 393.56,507.09 394.58,507.53 395.63,507.91 396.71,508.21 397.81,508.44 398.92,508.60 400.05,508.69 401.19,508.71 402.33,508.65 403.47,508.52 404.61,508.31 405.73,508.04 406.84,507.69 407.93,507.28 409.00,506.80 410.04,506.25 411.04,505.64 412.01,504.98 412.94,504.25 413.82,503.47 414.66,502.63 415.44,501.75 416.17,500.83 416.84,499.86 417.45,498.86 418.00,497.82 418.48,496.76 418.89,495.67 419.24,494.56 419.52,493.44 419.72,492.31 419.85,491.17 419.91,490.03 419.89,488.89 419.81,487.77 419.64,486.65 419.41,485.56 419.11,484.48 418.73,483.43 418.29,482.42 417.78,481.44 417.21,480.49 416.57,479.59 415.88,478.74Z" fill="#EEF4F7" stroke="#EEF4F7" stroke-width="0.5"/>
<path d="M455.92,478.95 455.06,478.13 454.14,477.37 453.19,476.66 452.20,476.01 451.17,475.42 450.11,474.90 449.03,474.44 447.92,474.05 446.80,473.73 445.67,473.48 444.53,473.30 443.39,473.20 442.25,473.16 441.12,473.20 440.00,473.32 438.89,473.50 437.81,473.76 436.75,474.09 435.72,474.48 434.72,474.95 433.76,475.48 432.85,476.07 431.97,476.73 431.15,477.44 430.38,478.21 429.67,479.03 429.01,479.90 428.42,480.81 427.89,481.77 427.42,482.76 427.02,483.79 426.69,484.85 426.44,485.93 426.25,487.03 426.14,488.15 426.10,489.28 426.13,490.42 426.24,491.56 426.42,492.70 426.67,493.83 426.99,494.94 427.38,496.04 427.84,497.12 428.36,498.18 428.95,499.20 429.60,500.20 430.31,501.15 431.08,502.06 431.89,502.92 432.76,503.74 433.67,504.50 434.63,505.21 435.62,505.86 436.65,506.45 437.71,506.97 438.79,507.43 439.89,507.82 441.01,508.14 442.15,508.39 443.28,508.57 444.43,508.68 445.57,508.71 446.70,508.67 447.82,508.56 448.93,508.37 450.01,508.11 451.07,507.79 452.10,507.39 453.10,506.93 454.06,506.40 454.97,505.80 455.84,505.15 456.67,504.43 457.44,503.67 458.15,502.85 458.81,501.98 459.40,501.06 459.93,500.10 460.40,499.11 460.80,498.08 461.12,497.02 461.38,495.94 461.57,494.84 461.68,493.72 461.72,492.59 461.69,491.45 461.58,490.31 461.40,489.18 461.15,488.05 460.83,486.93 460.44,485.83 459.98,484.75 459.45,483.69 458.87,482.67 458.22,481.68 457.51,480.72 456.74,479.81Z" fill="#F6EDE5" stroke="#F6EDE5" stroke-width="0.5"/>
<path d="M206.50,519.34 205.73,518.62 204.90,517.96 204.02,517.36 203.10,516.82 202.14,516.35 201.14,515.94 200.10,515.61 199.04,515.34 197.95,515.15 196.85,515.03 195.72,514.98 194.59,515.01 193.45,515.11 192.31,515.28 191.17,515.52 190.04,515.83 188.92,516.22 187.82,516.67 186.74,517.18 185.68,517.76 184.66,518.41 183.67,519.11 182.72,519.87 181.81,520.68 180.95,521.54 180.14,522.44 179.38,523.39 178.68,524.38 178.03,525.40 177.45,526.45 176.93,527.53 176.48,528.63 176.10,529.74 175.78,530.87 175.54,532.01 175.37,533.15 175.27,534.29 175.24,535.42 175.29,536.54 175.41,537.64 175.61,538.73 175.87,539.79 176.21,540.82 176.61,541.82 177.08,542.78 177.62,543.70 178.22,544.57 178.89,545.40 179.61,546.17 180.38,546.89 181.21,547.55 182.09,548.15 183.01,548.69 183.97,549.16 184.97,549.57 186.01,549.90 187.07,550.16 188.16,550.36 189.26,550.48 190.39,550.53 191.52,550.50 192.66,550.40 193.80,550.23 194.94,549.99 196.07,549.68 197.19,549.29 198.29,548.84 199.37,548.33 200.43,547.75 201.45,547.10 202.44,546.40 203.39,545.64 204.30,544.83 205.16,543.97 205.97,543.07 206.73,542.12 207.43,541.13 208.08,540.11 208.66,539.06 209.18,537.98 209.63,536.88 210.01,535.76 210.33,534.64 210.57,533.50 210.74,532.36 210.84,531.22 210.87,530.09 210.82,528.97 210.70,527.87 210.50,526.78 210.24,525.72 209.90,524.69 209.50,523.69 209.02,522.73 208.49,521.81 207.88,520.94 207.22,520.11Z" fill="#DDECF1" stroke="#DDECF1" stroke-width="0.5"/>
<path d="M247.50,520.15 246.67,519.37 245.79,518.65 244.86,517.99 243.90,517.38 242.90,516.84 241.86,516.37 240.80,515.96 239.71,515.62 238.60,515.36 237.48,515.16 236.34,515.03 235.20,514.98 234.06,515.01 232.92,515.10 231.79,515.27 230.67,515.51 229.57,515.82 228.49,516.20 227.44,516.64 226.42,517.16 225.43,517.73 224.48,518.37 223.58,519.07 222.72,519.83 221.91,520.64 221.15,521.49 220.45,522.40 219.81,523.34 219.23,524.33 218.72,525.35 218.27,526.40 217.89,527.48 217.58,528.57 217.34,529.69 217.17,530.82 217.08,531.95 217.05,533.09 217.11,534.23 217.23,535.36 217.43,536.48 217.70,537.59 218.03,538.67 218.44,539.74 218.92,540.77 219.46,541.77 220.06,542.73 220.73,543.65 221.45,544.53 222.23,545.36 223.06,546.14 223.94,546.86 224.86,547.52 225.83,548.13 226.83,548.67 227.87,549.14 228.93,549.55 230.02,549.89 231.13,550.15 232.25,550.35 233.38,550.47 234.52,550.53 235.67,550.50 236.80,550.41 237.94,550.24 239.05,550.00 240.15,549.69 241.23,549.31 242.28,548.87 243.31,548.35 244.29,547.77 245.24,547.14 246.15,546.44 247.01,545.68 247.82,544.87 248.58,544.02 249.28,543.11 249.92,542.17 250.50,541.18 251.01,540.16 251.46,539.11 251.84,538.03 252.15,536.93 252.39,535.82 252.56,534.69 252.65,533.56 252.67,532.42 252.62,531.28 252.50,530.15 252.30,529.03 252.03,527.92 251.69,526.83 251.28,525.77 250.81,524.74 250.27,523.74 249.66,522.78 249.00,521.86 248.27,520.98Z" fill="#FEFEFE" stroke="#FEFEFE" stroke-width="0.5"/>
<path d="M289.94,519.51 289.15,518.78 288.31,518.11 287.43,517.49 286.49,516.94 285.52,516.45 284.51,516.03 283.47,515.68 282.40,515.40 281.31,515.19 280.20,515.05 279.07,514.99 277.94,515.00 276.80,515.08 275.66,515.23 274.52,515.46 273.39,515.75 272.28,516.12 271.18,516.55 270.10,517.06 269.06,517.62 268.04,518.25 267.06,518.94 266.12,519.68 265.22,520.48 264.37,521.33 263.57,522.22 262.83,523.16 262.14,524.14 261.51,525.16 260.94,526.20 260.44,527.27 260.00,528.37 259.63,529.48 259.34,530.61 259.11,531.74 258.96,532.88 258.87,534.02 258.87,535.15 258.93,536.27 259.07,537.38 259.28,538.47 259.56,539.54 259.91,540.58 260.34,541.58 260.82,542.55 261.38,543.48 261.99,544.37 262.67,545.21 263.40,545.99 264.19,546.73 265.03,547.40 265.92,548.02 266.85,548.57 267.82,549.06 268.83,549.48 269.87,549.83 270.94,550.11 272.03,550.32 273.15,550.46 274.27,550.52 275.41,550.51 276.55,550.43 277.69,550.28 278.83,550.05 279.95,549.76 281.07,549.39 282.17,548.96 283.24,548.45 284.29,547.89 285.30,547.26 286.28,546.57 287.23,545.83 288.12,545.03 288.97,544.18 289.77,543.28 290.52,542.35 291.21,541.37 291.84,540.35 292.41,539.31 292.91,538.24 293.34,537.14 293.71,536.03 294.01,534.90 294.24,533.77 294.39,532.63 294.47,531.49 294.48,530.36 294.41,529.23 294.28,528.13 294.06,527.04 293.78,525.97 293.43,524.93 293.01,523.92 292.52,522.95 291.97,522.02 291.35,521.14 290.68,520.30Z" fill="#E4EFF3" stroke="#E4EFF3" stroke-width="0.5"/>
<path d="M331.99,519.28 331.22,518.56 330.39,517.91 329.52,517.31 328.60,516.78 327.64,516.31 326.64,515.91 325.61,515.59 324.55,515.33 323.47,515.14 322.36,515.02 321.24,514.98 320.11,515.01 318.97,515.12 317.82,515.29 316.69,515.54 315.55,515.86 314.43,516.25 313.33,516.70 312.25,517.23 311.19,517.81 310.17,518.46 309.17,519.17 308.22,519.93 307.31,520.74 306.44,521.61 305.63,522.52 304.86,523.47 304.16,524.46 303.51,525.48 302.92,526.54 302.40,527.61 301.94,528.72 301.55,529.83 301.23,530.96 300.98,532.10 300.81,533.24 300.70,534.38 300.67,535.51 300.71,536.63 300.83,537.73 301.02,538.81 301.28,539.87 301.61,540.90 302.00,541.89 302.47,542.85 303.01,543.77 303.60,544.64 304.26,545.46 304.98,546.23 305.75,546.95 306.57,547.60 307.44,548.20 308.36,548.73 309.32,549.20 310.32,549.59 311.35,549.92 312.41,550.18 313.50,550.37 314.60,550.49 315.72,550.53 316.86,550.50 318.00,550.39 319.14,550.22 320.28,549.97 321.41,549.65 322.53,549.26 323.63,548.80 324.71,548.28 325.77,547.70 326.80,547.05 327.79,546.34 328.74,545.58 329.65,544.77 330.52,543.90 331.34,542.99 332.10,542.04 332.81,541.05 333.46,540.03 334.04,538.97 334.57,537.89 335.02,536.79 335.41,535.68 335.73,534.55 335.98,533.41 336.16,532.27 336.26,531.13 336.29,530.00 336.25,528.88 336.14,527.78 335.95,526.70 335.69,525.64 335.36,524.61 334.96,523.62 334.49,522.66 333.96,521.74 333.36,520.87 332.70,520.05Z" fill="#DDECF1" stroke="#DDECF1" stroke-width="0.5"/>
<path d="M373.68,519.40 372.90,518.67 372.07,518.01 371.19,517.40 370.26,516.86 369.30,516.38 368.29,515.97 367.26,515.63 366.19,515.36 365.10,515.16 363.99,515.04 362.87,514.98 361.74,515.00 360.60,515.10 359.45,515.26 358.32,515.50 357.19,515.81 356.07,516.18 354.97,516.63 353.89,517.14 352.84,517.72 351.82,518.35 350.83,519.05 349.88,519.80 348.98,520.61 348.12,521.47 347.31,522.37 346.56,523.31 345.86,524.30 345.22,525.32 344.64,526.37 344.13,527.44 343.68,528.54 343.30,529.66 343.00,530.78 342.76,531.92 342.59,533.06 342.50,534.20 342.48,535.33 342.54,536.45 342.66,537.56 342.86,538.64 343.13,539.70 343.47,540.74 343.88,541.74 344.36,542.70 344.90,543.63 345.51,544.51 346.18,545.34 346.90,546.11 347.68,546.84 348.51,547.50 349.40,548.11 350.32,548.65 351.29,549.13 352.29,549.54 353.33,549.88 354.39,550.15 355.48,550.35 356.59,550.47 357.71,550.53 358.85,550.51 359.99,550.41 361.13,550.25 362.27,550.01 363.40,549.70 364.51,549.33 365.61,548.88 366.69,548.37 367.74,547.79 368.76,547.16 369.75,546.46 370.70,545.71 371.60,544.90 372.46,544.04 373.27,543.14 374.02,542.19 374.72,541.21 375.36,540.19 375.94,539.14 376.45,538.07 376.90,536.97 377.28,535.85 377.59,534.73 377.82,533.59 377.99,532.45 378.08,531.31 378.10,530.18 378.05,529.06 377.92,527.95 377.72,526.87 377.45,525.80 377.11,524.77 376.70,523.77 376.22,522.81 375.68,521.88 375.07,521.00 374.40,520.17Z" fill="#E2EEF2" stroke="#E2EEF2" stroke-width="0.5"/>
<path d="M413.22,521.66 412.31,520.79 411.35,519.97 410.36,519.21 409.33,518.50 408.27,517.85 407.19,517.26 406.09,516.73 404.97,516.27 403.83,515.88 402.69,515.56 401.55,515.31 400.41,515.12 399.28,515.02 398.16,514.98 397.05,515.02 395.97,515.13 394.91,515.31 393.88,515.57 392.89,515.89 391.93,516.29 391.01,516.75 390.14,517.28 389.32,517.87 388.55,518.52 387.84,519.24 387.19,520.00 386.59,520.82 386.06,521.69 385.60,522.61 385.20,523.56 384.88,524.55 384.62,525.58 384.44,526.64 384.33,527.72 384.29,528.82 384.32,529.94 384.43,531.07 384.61,532.21 384.87,533.35 385.19,534.48 385.58,535.61 386.04,536.73 386.57,537.83 387.16,538.91 387.81,539.97 388.52,541.00 389.29,541.99 390.11,542.94 390.98,543.85 391.89,544.72 392.85,545.54 393.84,546.30 394.87,547.01 395.93,547.66 397.01,548.25 398.11,548.78 399.23,549.24 400.37,549.63 401.51,549.95 402.65,550.20 403.79,550.38 404.92,550.49 406.04,550.53 407.15,550.49 408.23,550.38 409.29,550.20 410.32,549.94 411.31,549.61 412.27,549.22 413.19,548.76 414.06,548.23 414.88,547.64 415.65,546.98 416.36,546.27 417.01,545.51 417.61,544.69 418.14,543.82 418.60,542.90 419.00,541.95 419.32,540.95 419.58,539.93 419.76,538.87 419.87,537.79 419.91,536.69 419.88,535.57 419.77,534.44 419.59,533.30 419.33,532.16 419.01,531.03 418.62,529.90 418.16,528.78 417.63,527.68 417.04,526.59 416.39,525.54 415.68,524.51 414.91,523.52 414.09,522.57Z" fill="#F1D5C3" stroke="#F1D5C3" stroke-width="0.5"/>
<path d="M457.30,519.40 456.52,518.67 455.69,518.01 454.80,517.40 453.88,516.86 452.91,516.38 451.91,515.97 450.87,515.63 449.81,515.36 448.72,515.16 447.61,515.04 446.49,514.98 445.35,515.00 444.21,515.10 443.07,515.26 441.93,515.50 440.80,515.81 439.69,516.18 438.59,516.63 437.51,517.14 436.46,517.72 435.44,518.35 434.45,519.05 433.50,519.80 432.60,520.61 431.74,521.47 430.93,522.37 430.18,523.31 429.48,524.30 428.84,525.32 428.26,526.37 427.75,527.44 427.30,528.54 426.92,529.66 426.61,530.78 426.38,531.92 426.21,533.06 426.12,534.20 426.10,535.33 426.15,536.45 426.28,537.56 426.48,538.64 426.75,539.70 427.09,540.74 427.50,541.74 427.98,542.70 428.52,543.63 429.13,544.51 429.80,545.34 430.52,546.11 431.30,546.84 432.13,547.50 433.01,548.11 433.94,548.65 434.90,549.13 435.91,549.54 436.94,549.88 438.01,550.15 439.10,550.35 440.21,550.47 441.33,550.53 442.46,550.51 443.60,550.41 444.75,550.25 445.88,550.01 447.01,549.70 448.13,549.33 449.23,548.88 450.31,548.37 451.36,547.79 452.38,547.16 453.37,546.46 454.32,545.71 455.22,544.90 456.08,544.04 456.89,543.14 457.64,542.19 458.34,541.21 458.98,540.19 459.56,539.14 460.07,538.07 460.52,536.97 460.90,535.85 461.20,534.73 461.44,533.59 461.61,532.45 461.70,531.31 461.72,530.18 461.66,529.06 461.54,527.95 461.34,526.87 461.07,525.80 460.73,524.77 460.32,523.77 459.84,522.81 459.30,521.88 458.69,521.00 458.02,520.17Z" fill="#E2EEF2" stroke="#E2EEF2" stroke-width="0.5"/>
<path d="M499.17,519.34 498.39,518.62 497.56,517.96 496.68,517.36 495.76,516.82 494.80,516.35 493.80,515.94 492.77,515.61 491.70,515.34 490.62,515.15 489.51,515.03 488.39,514.98 487.25,515.01 486.11,515.11 484.97,515.28 483.83,515.52 482.70,515.83 481.58,516.22 480.48,516.67 479.40,517.18 478.35,517.76 477.32,518.41 476.33,519.11 475.38,519.87 474.48,520.68 473.61,521.54 472.80,522.44 472.04,523.39 471.34,524.38 470.70,525.40 470.11,526.45 469.59,527.53 469.14,528.63 468.76,529.74 468.45,530.87 468.20,532.01 468.03,533.15 467.93,534.29 467.91,535.42 467.96,536.54 468.08,537.64 468.27,538.73 468.53,539.79 468.87,540.82 469.28,541.82 469.75,542.78 470.29,543.70 470.89,544.57 471.55,545.40 472.27,546.17 473.05,546.89 473.87,547.55 474.75,548.15 475.67,548.69 476.64,549.16 477.64,549.57 478.67,549.90 479.73,550.16 480.82,550.36 481.93,550.48 483.05,550.53 484.18,550.50 485.32,550.40 486.47,550.23 487.60,549.99 488.74,549.68 489.85,549.29 490.96,548.84 492.03,548.33 493.09,547.75 494.11,547.10 495.10,546.40 496.05,545.64 496.96,544.83 497.82,543.97 498.64,543.07 499.39,542.12 500.10,541.13 500.74,540.11 501.32,539.06 501.84,537.98 502.29,536.88 502.68,535.76 502.99,534.64 503.23,533.50 503.41,532.36 503.50,531.22 503.53,530.09 503.48,528.97 503.36,527.87 503.17,526.78 502.90,525.72 502.57,524.69 502.16,523.69 501.69,522.73 501.15,521.81 500.55,520.94 499.89,520.11Z" fill="#DDECF1" stroke="#DDECF1" stroke-width="0.5"/>
<path d="M205.52,562.13 204.68,561.34 203.79,560.61 202.86,559.94 201.89,559.32 200.88,558.77 199.84,558.28 198.77,557.86 197.68,557.50 196.56,557.22 195.44,557.01 194.30,556.87 193.16,556.81 192.02,556.81 190.88,556.89 189.76,557.05 188.64,557.27 187.54,557.57 186.47,557.93 185.42,558.36 184.41,558.87 183.43,559.43 182.49,560.06 181.59,560.74 180.74,561.49 179.94,562.29 179.20,563.13 178.51,564.03 177.88,564.97 177.31,565.94 176.81,566.96 176.38,568.00 176.01,569.07 175.71,570.17 175.49,571.28 175.34,572.41 175.26,573.54 175.25,574.68 175.32,575.82 175.45,576.95 175.67,578.08 175.95,579.18 176.30,580.27 176.72,581.34 177.21,582.38 177.77,583.39 178.38,584.36 179.06,585.29 179.80,586.17 180.59,587.01 181.43,587.80 182.32,588.53 183.25,589.21 184.22,589.83 185.23,590.38 186.27,590.87 187.34,591.29 188.43,591.64 189.54,591.92 190.67,592.13 191.81,592.27 192.95,592.34 194.09,592.33 195.23,592.25 196.35,592.10 197.47,591.88 198.57,591.58 199.64,591.21 200.69,590.78 201.70,590.28 202.68,589.72 203.62,589.09 204.52,588.40 205.37,587.66 206.17,586.86 206.91,586.01 207.60,585.12 208.23,584.18 208.80,583.20 209.30,582.19 209.73,581.14 210.10,580.07 210.40,578.98 210.62,577.86 210.77,576.74 210.85,575.60 210.86,574.47 210.79,573.33 210.65,572.19 210.44,571.07 210.16,569.96 209.81,568.87 209.38,567.80 208.90,566.77 208.34,565.76 207.72,564.79 207.05,563.86 206.31,562.97Z" fill="#FEFCFA" stroke="#FEFCFA" stroke-width="0.5"/>
<path d="M248.31,561.15 247.53,560.44 246.71,559.77 245.83,559.17 244.91,558.64 243.95,558.17 242.95,557.76 241.91,557.43 240.85,557.16 239.76,556.97 238.65,556.85 237.53,556.80 236.40,556.83 235.26,556.92 234.12,557.09 232.98,557.34 231.85,557.65 230.73,558.03 229.63,558.48 228.55,559.00 227.49,559.58 226.47,560.22 225.48,560.93 224.53,561.68 223.62,562.49 222.76,563.35 221.95,564.26 221.19,565.21 220.48,566.20 219.84,567.22 219.26,568.27 218.74,569.35 218.29,570.45 217.90,571.56 217.59,572.69 217.35,573.83 217.18,574.97 217.08,576.10 217.05,577.24 217.10,578.36 217.22,579.46 217.42,580.55 217.68,581.61 218.02,582.64 218.42,583.63 218.89,584.60 219.43,585.52 220.03,586.39 220.70,587.22 221.42,587.99 222.19,588.71 223.02,589.37 223.90,589.97 224.82,590.51 225.78,590.98 226.78,591.38 227.82,591.72 228.88,591.98 229.97,592.18 231.07,592.30 232.20,592.34 233.33,592.32 234.47,592.22 235.61,592.05 236.75,591.81 237.88,591.49 239.00,591.11 240.10,590.66 241.18,590.14 242.23,589.56 243.26,588.92 244.25,588.22 245.20,587.46 246.11,586.65 246.97,585.79 247.78,584.88 248.54,583.94 249.24,582.95 249.89,581.93 250.47,580.88 250.99,579.80 251.44,578.70 251.82,577.58 252.14,576.45 252.38,575.32 252.55,574.18 252.65,573.04 252.67,571.91 252.63,570.79 252.51,569.69 252.31,568.60 252.05,567.54 251.71,566.51 251.31,565.51 250.83,564.55 250.30,563.63 249.69,562.76 249.03,561.93Z" fill="#DDECF1" stroke="#DDECF1" stroke-width="0.5"/>
<path d="M289.20,562.07 288.37,561.28 287.48,560.56 286.55,559.88 285.58,559.27 284.58,558.73 283.54,558.24 282.47,557.83 281.38,557.48 280.27,557.20 279.15,557.00 278.01,556.86 276.87,556.80 275.73,556.82 274.59,556.90 273.46,557.06 272.35,557.29 271.25,557.59 270.17,557.96 269.12,558.40 268.10,558.91 267.12,559.48 266.18,560.11 265.28,560.80 264.42,561.55 263.62,562.35 262.87,563.20 262.18,564.10 261.54,565.04 260.97,566.02 260.47,567.04 260.03,568.09 259.65,569.16 259.35,570.25 259.12,571.37 258.96,572.49 258.88,573.63 258.87,574.77 258.93,575.91 259.06,577.04 259.27,578.16 259.54,579.27 259.89,580.36 260.31,581.42 260.79,582.46 261.34,583.46 261.95,584.43 262.63,585.36 263.36,586.24 264.14,587.08 264.98,587.86 265.86,588.59 266.79,589.26 267.76,589.87 268.77,590.42 269.81,590.90 270.87,591.32 271.97,591.67 273.08,591.94 274.20,592.15 275.34,592.28 276.48,592.34 277.62,592.33 278.76,592.24 279.88,592.09 281.00,591.86 282.10,591.55 283.17,591.18 284.22,590.74 285.24,590.24 286.22,589.67 287.17,589.04 288.07,588.34 288.92,587.60 289.73,586.80 290.47,585.94 291.17,585.05 291.80,584.10 292.37,583.12 292.88,582.11 293.32,581.06 293.69,579.99 293.99,578.89 294.22,577.78 294.38,576.65 294.47,575.52 294.48,574.38 294.42,573.24 294.29,572.11 294.08,570.98 293.80,569.88 293.45,568.79 293.04,567.72 292.55,566.69 292.00,565.68 291.39,564.71 290.72,563.79 289.99,562.90Z" fill="#FEFEFD" stroke="#FEFEFD" stroke-width="0.5"/>
<path d="M331.33,561.76 330.51,560.99 329.64,560.29 328.73,559.64 327.78,559.05 326.78,558.53 325.76,558.07 324.70,557.68 323.62,557.36 322.51,557.11 321.39,556.94 320.26,556.83 319.12,556.80 317.98,556.84 316.84,556.96 315.71,557.14 314.59,557.40 313.48,557.73 312.40,558.13 311.34,558.59 310.31,559.12 309.31,559.72 308.35,560.37 307.43,561.09 306.56,561.85 305.74,562.68 304.97,563.55 304.25,564.46 303.59,565.42 303.00,566.41 302.47,567.44 302.00,568.50 301.60,569.58 301.27,570.69 301.01,571.81 300.83,572.94 300.71,574.07 300.67,575.21 300.70,576.35 300.81,577.48 300.99,578.60 301.24,579.70 301.56,580.78 301.95,581.83 302.40,582.86 302.93,583.85 303.52,584.80 304.17,585.71 304.87,586.57 305.64,587.39 306.45,588.15 307.32,588.86 308.23,589.51 309.19,590.09 310.18,590.62 311.21,591.07 312.26,591.46 313.35,591.78 314.45,592.03 315.57,592.21 316.70,592.31 317.84,592.35 318.98,592.30 320.12,592.19 321.25,592.00 322.38,591.75 323.48,591.42 324.57,591.02 325.63,590.55 326.66,590.02 327.65,589.43 328.61,588.77 329.53,588.06 330.40,587.29 331.23,586.47 332.00,585.60 332.71,584.68 333.37,583.73 333.97,582.73 334.50,581.70 334.96,580.64 335.36,579.56 335.69,578.46 335.95,577.34 336.14,576.21 336.25,575.07 336.29,573.93 336.26,572.80 336.16,571.67 335.98,570.55 335.73,569.45 335.41,568.37 335.02,567.31 334.56,566.29 334.04,565.30 333.45,564.35 332.80,563.44 332.09,562.57Z" fill="#F5F9FA" stroke="#F5F9FA" stroke-width="0.5"/>
<path d="M373.38,561.51 372.58,560.77 371.73,560.08 370.83,559.45 369.89,558.88 368.91,558.38 367.89,557.94 366.84,557.58 365.77,557.28 364.67,557.05 363.55,556.90 362.43,556.81 361.29,556.81 360.15,556.87 359.01,557.01 357.87,557.21 356.75,557.49 355.63,557.84 354.54,558.26 353.47,558.75 352.43,559.30 351.43,559.91 350.45,560.59 349.52,561.32 348.64,562.11 347.80,562.94 347.01,563.83 346.28,564.76 345.60,565.73 344.99,566.73 344.43,567.77 343.95,568.84 343.53,569.93 343.18,571.04 342.89,572.16 342.69,573.29 342.55,574.43 342.48,575.57 342.49,576.70 342.58,577.83 342.73,578.94 342.96,580.04 343.26,581.11 343.63,582.15 344.06,583.17 344.57,584.15 345.13,585.09 345.76,585.98 346.46,586.83 347.20,587.63 348.00,588.38 348.85,589.07 349.75,589.70 350.69,590.26 351.68,590.77 352.69,591.20 353.74,591.57 354.81,591.87 355.91,592.09 357.03,592.25 358.16,592.33 359.29,592.34 360.43,592.28 361.58,592.14 362.71,591.93 363.84,591.65 364.95,591.30 366.04,590.88 367.11,590.40 368.15,589.84 369.16,589.23 370.13,588.56 371.06,587.83 371.95,587.04 372.78,586.20 373.57,585.32 374.31,584.39 374.98,583.42 375.60,582.41 376.15,581.37 376.64,580.31 377.06,579.22 377.41,578.11 377.69,576.99 377.90,575.85 378.03,574.72 378.10,573.58 378.09,572.44 378.01,571.32 377.85,570.20 377.62,569.11 377.32,568.04 376.96,566.99 376.52,565.98 376.02,565.00 375.45,564.06 374.82,563.16 374.13,562.31Z" fill="#EBF3F6" stroke="#EBF3F6" stroke-width="0.5"/>
<path d="M415.01,561.70 414.19,560.94 413.33,560.23 412.42,559.59 411.47,559.01 410.48,558.49 409.46,558.04 408.40,557.66 407.32,557.34 406.22,557.10 405.10,556.93 403.97,556.83 402.83,556.80 401.69,556.85 400.55,556.97 399.42,557.16 398.29,557.42 397.19,557.76 396.10,558.16 395.04,558.63 394.00,559.17 393.00,559.77 392.04,560.43 391.12,561.14 390.24,561.92 389.42,562.74 388.64,563.62 387.92,564.54 387.26,565.50 386.66,566.49 386.12,567.52 385.65,568.58 385.25,569.67 384.91,570.77 384.65,571.89 384.46,573.03 384.34,574.16 384.29,575.30 384.32,576.44 384.42,577.57 384.59,578.68 384.83,579.78 385.15,580.86 385.53,581.91 385.98,582.93 386.50,583.92 387.09,584.87 387.73,585.78 388.43,586.64 389.19,587.45 390.01,588.21 390.87,588.91 391.78,589.55 392.73,590.14 393.72,590.65 394.74,591.11 395.80,591.49 396.88,591.80 397.98,592.05 399.10,592.22 400.23,592.32 401.37,592.34 402.51,592.30 403.65,592.18 404.78,591.99 405.91,591.72 407.01,591.39 408.10,590.99 409.16,590.52 410.20,589.98 411.20,589.38 412.16,588.72 413.08,588.00 413.96,587.23 414.78,586.40 415.56,585.53 416.28,584.61 416.94,583.65 417.54,582.65 418.08,581.62 418.55,580.56 418.95,579.48 419.29,578.37 419.55,577.25 419.74,576.12 419.86,574.98 419.91,573.84 419.88,572.71 419.78,571.58 419.61,570.46 419.37,569.36 419.05,568.29 418.67,567.23 418.22,566.21 417.70,565.22 417.11,564.27 416.47,563.37 415.77,562.51Z" fill="#F2F7F9" stroke="#F2F7F9" stroke-width="0.5"/>
<path d="M456.38,562.13 455.54,561.34 454.65,560.61 453.72,559.94 452.74,559.32 451.73,558.77 450.69,558.28 449.62,557.86 448.53,557.50 447.42,557.22 446.29,557.01 445.16,556.87 444.02,556.81 442.88,556.81 441.74,556.89 440.61,557.05 439.50,557.27 438.40,557.57 437.32,557.93 436.28,558.36 435.26,558.87 434.28,559.43 433.34,560.06 432.45,560.74 431.60,561.49 430.80,562.29 430.05,563.13 429.36,564.03 428.73,564.97 428.17,565.94 427.67,566.96 427.23,568.00 426.86,569.07 426.57,570.17 426.34,571.28 426.19,572.41 426.11,573.54 426.10,574.68 426.17,575.82 426.31,576.95 426.52,578.08 426.80,579.18 427.16,580.27 427.58,581.34 428.07,582.38 428.62,583.39 429.24,584.36 429.92,585.29 430.65,586.17 431.44,587.01 432.28,587.80 433.17,588.53 434.10,589.21 435.08,589.83 436.08,590.38 437.13,590.87 438.19,591.29 439.29,591.64 440.40,591.92 441.52,592.13 442.66,592.27 443.80,592.34 444.94,592.33 446.08,592.25 447.21,592.10 448.32,591.88 449.42,591.58 450.49,591.21 451.54,590.78 452.56,590.28 453.54,589.72 454.48,589.09 455.37,588.40 456.22,587.66 457.02,586.86 457.77,586.01 458.46,585.12 459.08,584.18 459.65,583.20 460.15,582.19 460.59,581.14 460.95,580.07 461.25,578.98 461.47,577.86 461.63,576.74 461.71,575.60 461.71,574.47 461.65,573.33 461.51,572.19 461.30,571.07 461.01,569.96 460.66,568.87 460.24,567.80 459.75,566.77 459.20,565.76 458.58,564.79 457.90,563.86 457.17,562.97Z" fill="#FEFCFA" stroke="#FEFCFA" stroke-width="0.5"/>
<path d="M500.02,560.30 499.31,559.65 498.55,559.06 497.73,558.54 496.86,558.08 495.95,557.69 494.99,557.37 494.00,557.12 492.97,556.94 491.92,556.83 490.83,556.80 489.73,556.84 488.61,556.95 487.48,557.14 486.34,557.39 485.20,557.72 484.06,558.12 482.93,558.58 481.80,559.11 480.70,559.71 479.61,560.36 478.55,561.07 477.52,561.84 476.53,562.66 475.57,563.53 474.65,564.45 473.78,565.40 472.96,566.40 472.19,567.43 471.47,568.48 470.82,569.56 470.22,570.67 469.69,571.79 469.23,572.92 468.83,574.05 468.50,575.19 468.25,576.33 468.06,577.46 467.95,578.58 467.91,579.68 467.94,580.76 468.05,581.81 468.23,582.84 468.48,583.83 468.80,584.78 469.19,585.69 469.65,586.56 470.17,587.38 470.76,588.14 471.41,588.85 472.12,589.50 472.89,590.08 473.71,590.61 474.57,591.07 475.49,591.46 476.44,591.78 477.43,592.03 478.46,592.21 479.52,592.31 480.60,592.35 481.71,592.31 482.83,592.19 483.96,592.01 485.10,591.75 486.24,591.42 487.38,591.03 488.51,590.56 489.63,590.03 490.74,589.44 491.82,588.79 492.88,588.07 493.91,587.30 494.91,586.48 495.87,585.61 496.78,584.70 497.66,583.74 498.48,582.75 499.25,581.72 499.96,580.66 500.62,579.58 501.21,578.48 501.74,577.36 502.21,576.23 502.61,575.09 502.93,573.95 503.19,572.82 503.38,571.69 503.49,570.57 503.53,569.47 503.50,568.39 503.39,567.33 503.21,566.31 502.96,565.32 502.64,564.36 502.25,563.45 501.79,562.59 501.26,561.77 500.67,561.01Z" fill="#B6DAE5" stroke="#B6DAE5" stroke-width="0.5"/>
<path d="M541.72,560.41 541.00,559.75 540.23,559.15 539.40,558.62 538.53,558.15 537.61,557.75 536.65,557.42 535.65,557.15 534.61,556.96 533.55,556.85 532.47,556.80 531.36,556.83 530.24,556.93 529.10,557.10 527.96,557.35 526.82,557.66 525.68,558.05 524.55,558.50 523.43,559.02 522.33,559.60 521.25,560.25 520.19,560.95 519.17,561.71 518.18,562.52 517.23,563.39 516.32,564.29 515.45,565.24 514.64,566.23 513.88,567.26 513.17,568.31 512.53,569.39 511.94,570.49 511.42,571.60 510.97,572.73 510.58,573.87 510.26,575.01 510.02,576.15 509.85,577.28 509.74,578.40 509.72,579.50 509.76,580.58 509.88,581.64 510.07,582.67 510.33,583.67 510.67,584.63 511.07,585.55 511.54,586.42 512.07,587.25 512.67,588.02 513.33,588.74 514.05,589.39 514.83,589.99 515.65,590.53 516.53,591.00 517.45,591.40 518.41,591.73 519.41,591.99 520.44,592.18 521.50,592.30 522.59,592.34 523.70,592.32 524.82,592.22 525.95,592.04 527.09,591.80 528.23,591.48 529.37,591.10 530.50,590.64 531.62,590.12 532.72,589.54 533.80,588.90 534.86,588.19 535.88,587.43 536.88,586.62 537.83,585.76 538.74,584.85 539.60,583.90 540.42,582.91 541.18,581.89 541.88,580.84 542.53,579.76 543.11,578.66 543.63,577.54 544.09,576.41 544.47,575.28 544.79,574.14 545.04,573.00 545.21,571.87 545.31,570.75 545.34,569.64 545.29,568.56 545.17,567.50 544.98,566.47 544.72,565.47 544.39,564.52 543.99,563.60 543.52,562.72 542.98,561.90 542.38,561.13Z" fill="#BCDCE7" stroke="#BCDCE7" stroke-width="0.5"/>
<path d="M204.80,604.67 203.92,603.84 202.99,603.06 202.03,602.33 201.02,601.66 199.98,601.06 198.92,600.51 197.83,600.03 196.72,599.62 195.60,599.28 194.46,599.01 193.32,598.81 192.18,598.68 191.04,598.62 189.91,598.64 188.79,598.73 187.70,598.89 186.62,599.12 185.57,599.43 184.55,599.81 183.56,600.25 182.62,600.76 181.71,601.33 180.86,601.97 180.05,602.66 179.30,603.41 178.60,604.22 177.96,605.07 177.39,605.98 176.88,606.92 176.43,607.90 176.06,608.92 175.75,609.97 175.52,611.04 175.35,612.14 175.26,613.25 175.25,614.38 175.30,615.52 175.43,616.66 175.63,617.79 175.91,618.93 176.25,620.05 176.66,621.16 177.14,622.24 177.69,623.31 178.30,624.34 178.96,625.34 179.69,626.31 180.47,627.23 181.31,628.11 182.19,628.94 183.12,629.72 184.08,630.45 185.09,631.12 186.12,631.73 187.19,632.27 188.28,632.75 189.39,633.16 190.51,633.50 191.65,633.78 192.79,633.98 193.93,634.11 195.07,634.16 196.20,634.14 197.31,634.05 198.41,633.89 199.49,633.66 200.54,633.35 201.56,632.98 202.55,632.53 203.49,632.02 204.40,631.45 205.25,630.81 206.06,630.12 206.81,629.37 207.51,628.56 208.15,627.71 208.72,626.81 209.23,625.86 209.68,624.88 210.05,623.86 210.36,622.81 210.59,621.74 210.76,620.64 210.85,619.53 210.86,618.40 210.81,617.26 210.68,616.13 210.48,614.99 210.20,613.85 209.86,612.73 209.45,611.63 208.97,610.54 208.42,609.48 207.81,608.44 207.14,607.44 206.42,606.47 205.64,605.55Z" fill="#F4E6DA" stroke="#F4E6DA" stroke-width="0.5"/>
<path d="M249.11,602.17 248.40,601.52 247.63,600.93 246.81,600.40 245.94,599.93 245.02,599.54 244.06,599.21 243.06,598.95 242.03,598.77 240.98,598.66 239.89,598.62 238.79,598.65 237.66,598.76 236.53,598.94 235.39,599.19 234.25,599.51 233.11,599.90 231.98,600.36 230.86,600.88 229.76,601.47 228.67,602.12 227.62,602.83 226.59,603.59 225.59,604.41 224.64,605.28 223.73,606.19 222.86,607.14 222.04,608.13 221.27,609.16 220.56,610.21 219.91,611.29 219.32,612.40 218.80,613.51 218.34,614.64 217.95,615.78 217.62,616.92 217.37,618.06 217.19,619.19 217.09,620.30 217.05,621.41 217.09,622.49 217.20,623.55 217.39,624.57 217.65,625.57 217.97,626.52 218.37,627.44 218.83,628.31 219.36,629.13 219.96,629.90 220.61,630.61 221.33,631.26 222.10,631.86 222.92,632.39 223.79,632.85 224.71,633.24 225.67,633.57 226.66,633.83 227.69,634.01 228.75,634.12 229.84,634.16 230.94,634.13 232.06,634.02 233.20,633.84 234.33,633.59 235.48,633.27 236.62,632.88 237.75,632.42 238.87,631.90 239.97,631.31 241.05,630.66 242.11,629.95 243.14,629.19 244.13,628.37 245.09,627.50 246.00,626.59 246.87,625.64 247.69,624.65 248.45,623.62 249.16,622.57 249.81,621.49 250.40,620.39 250.93,619.27 251.39,618.14 251.78,617.00 252.10,615.86 252.35,614.73 252.53,613.60 252.64,612.48 252.67,611.37 252.64,610.29 252.52,609.24 252.34,608.21 252.08,607.21 251.75,606.26 251.36,605.34 250.89,604.47 250.36,603.65 249.77,602.89Z" fill="#B9DBE6" stroke="#B9DBE6" stroke-width="0.5"/>
<path d="M290.81,602.28 290.09,601.62 289.31,601.02 288.48,600.48 287.60,600.00 286.68,599.60 285.71,599.26 284.71,598.99 283.67,598.79 282.61,598.67 281.52,598.62 280.41,598.64 279.29,598.74 278.16,598.90 277.02,599.14 275.87,599.45 274.74,599.83 273.61,600.28 272.49,600.80 271.39,601.37 270.31,602.01 269.26,602.71 268.23,603.47 267.25,604.28 266.30,605.13 265.39,606.04 264.53,606.98 263.72,607.97 262.96,608.99 262.26,610.04 261.62,611.12 261.04,612.22 260.53,613.33 260.08,614.46 259.70,615.59 259.39,616.73 259.15,617.87 258.98,619.00 258.88,620.12 258.86,621.23 258.91,622.32 259.04,623.38 259.23,624.41 259.50,625.41 259.84,626.37 260.25,627.29 260.73,628.17 261.27,629.00 261.87,629.78 262.54,630.50 263.26,631.16 264.04,631.76 264.87,632.30 265.75,632.78 266.67,633.19 267.63,633.52 268.64,633.79 269.67,633.99 270.73,634.11 271.82,634.16 272.93,634.14 274.05,634.05 275.19,633.88 276.33,633.64 277.47,633.33 278.61,632.95 279.74,632.50 280.86,631.99 281.96,631.41 283.04,630.77 284.09,630.07 285.11,629.31 286.10,628.51 287.05,627.65 287.95,626.74 288.81,625.80 289.62,624.81 290.38,623.79 291.08,622.74 291.72,621.66 292.30,620.57 292.82,619.45 293.27,618.32 293.65,617.19 293.96,616.05 294.20,614.91 294.37,613.78 294.46,612.66 294.48,611.55 294.43,610.47 294.31,609.40 294.11,608.37 293.84,607.37 293.50,606.41 293.10,605.49 292.62,604.61 292.08,603.78 291.48,603.01Z" fill="#BEDEE8" stroke="#BEDEE8" stroke-width="0.5"/>
<path d="M332.34,602.57 331.59,601.88 330.79,601.25 329.94,600.69 329.04,600.19 328.10,599.75 327.12,599.39 326.11,599.09 325.06,598.86 323.99,598.71 322.89,598.63 321.77,598.62 320.65,598.69 319.51,598.83 318.37,599.04 317.23,599.32 316.09,599.67 314.96,600.09 313.85,600.58 312.76,601.13 311.69,601.75 310.65,602.42 309.64,603.16 308.67,603.95 307.74,604.78 306.85,605.67 306.01,606.60 305.22,607.57 304.49,608.58 303.81,609.62 303.19,610.68 302.64,611.77 302.15,612.88 301.73,614.01 301.37,615.14 301.09,616.28 300.88,617.42 300.74,618.55 300.68,619.68 300.68,620.79 300.76,621.88 300.92,622.95 301.14,624.00 301.44,625.01 301.81,625.99 302.24,626.93 302.74,627.82 303.31,628.67 303.94,629.47 304.63,630.21 305.37,630.90 306.17,631.53 307.02,632.10 307.92,632.60 308.86,633.03 309.84,633.40 310.86,633.69 311.90,633.92 312.98,634.07 314.07,634.15 315.19,634.16 316.32,634.09 317.45,633.95 318.60,633.74 319.74,633.46 320.87,633.11 322.00,632.69 323.11,632.20 324.20,631.65 325.27,631.03 326.31,630.36 327.32,629.62 328.29,628.84 329.23,628.00 330.11,627.11 330.95,626.18 331.74,625.21 332.48,624.20 333.16,623.17 333.77,622.10 334.33,621.01 334.81,619.90 335.24,618.78 335.59,617.64 335.87,616.50 336.08,615.37 336.22,614.23 336.29,613.11 336.28,611.99 336.20,610.90 336.05,609.83 335.82,608.78 335.52,607.77 335.16,606.79 334.72,605.85 334.22,604.96 333.65,604.11 333.02,603.31Z" fill="#CCE4ED" stroke="#CCE4ED" stroke-width="0.5"/>
<path d="M375.03,601.68 374.36,601.07 373.63,600.53 372.85,600.05 372.01,599.63 371.13,599.29 370.20,599.01 369.24,598.81 368.23,598.68 367.19,598.62 366.13,598.64 365.04,598.72 363.93,598.88 362.80,599.12 361.67,599.42 360.53,599.79 359.38,600.24 358.25,600.74 357.12,601.32 356.00,601.95 354.90,602.64 353.83,603.39 352.78,604.20 351.76,605.05 350.77,605.95 349.83,606.89 348.92,607.87 348.07,608.89 347.26,609.94 346.51,611.01 345.82,612.11 345.18,613.22 344.61,614.35 344.10,615.49 343.66,616.63 343.28,617.76 342.98,618.90 342.75,620.02 342.59,621.13 342.50,622.21 342.48,623.28 342.54,624.31 342.67,625.32 342.88,626.28 343.15,627.21 343.50,628.09 343.91,628.92 344.39,629.70 344.94,630.43 345.55,631.10 346.22,631.71 346.95,632.26 347.73,632.74 348.57,633.15 349.45,633.49 350.38,633.77 351.35,633.97 352.35,634.10 353.39,634.16 354.46,634.15 355.55,634.06 356.66,633.90 357.78,633.66 358.92,633.36 360.06,632.99 361.20,632.55 362.34,632.04 363.46,631.47 364.58,630.83 365.68,630.14 366.76,629.39 367.81,628.59 368.83,627.73 369.81,626.83 370.75,625.89 371.66,624.91 372.51,623.89 373.32,622.84 374.07,621.77 374.76,620.67 375.40,619.56 375.97,618.43 376.48,617.30 376.92,616.16 377.30,615.02 377.60,613.89 377.83,612.76 378.00,611.66 378.08,610.57 378.10,609.50 378.04,608.47 377.91,607.47 377.71,606.50 377.43,605.57 377.09,604.69 376.67,603.86 376.19,603.08 375.64,602.35Z" fill="#9ECCDE" stroke="#9ECCDE" stroke-width="0.5"/>
<path d="M413.08,605.44 412.16,604.56 411.20,603.74 410.20,602.96 409.16,602.24 408.10,601.58 407.01,600.98 405.91,600.45 404.78,599.98 403.65,599.57 402.51,599.24 401.37,598.98 400.23,598.79 399.10,598.67 397.98,598.62 396.88,598.65 395.80,598.74 394.74,598.92 393.72,599.16 392.73,599.47 391.78,599.86 390.87,600.31 390.01,600.83 389.19,601.41 388.43,602.05 387.73,602.75 387.09,603.51 386.50,604.32 385.98,605.19 385.53,606.09 385.15,607.04 384.83,608.03 384.59,609.05 384.42,610.10 384.32,611.18 384.29,612.28 384.34,613.40 384.46,614.53 384.65,615.66 384.91,616.80 385.25,617.94 385.65,619.07 386.12,620.19 386.66,621.29 387.26,622.38 387.92,623.44 388.64,624.47 389.42,625.47 390.24,626.43 391.12,627.35 392.04,628.22 393.00,629.05 394.00,629.82 395.04,630.54 396.10,631.20 397.19,631.80 398.29,632.33 399.42,632.80 400.55,633.21 401.69,633.54 402.83,633.80 403.97,634.00 405.10,634.12 406.22,634.16 407.32,634.14 408.40,634.04 409.46,633.87 410.48,633.62 411.47,633.31 412.42,632.92 413.33,632.47 414.19,631.95 415.01,631.37 415.77,630.73 416.47,630.03 417.11,629.27 417.70,628.46 418.22,627.60 418.67,626.69 419.05,625.74 419.37,624.75 419.61,623.73 419.78,622.68 419.88,621.60 419.91,620.50 419.86,619.38 419.74,618.26 419.55,617.12 419.29,615.98 418.95,614.84 418.55,613.71 418.08,612.59 417.54,611.49 416.94,610.40 416.28,609.34 415.56,608.31 414.78,607.31 413.96,606.35Z" fill="#F0CFBB" stroke="#F0CFBB" stroke-width="0.5"/>
<path d="M457.47,602.86 456.71,602.15 455.89,601.49 455.02,600.90 454.10,600.38 453.15,599.92 452.15,599.52 451.12,599.20 450.06,598.95 448.98,598.76 447.88,598.65 446.76,598.62 445.62,598.65 444.48,598.76 443.34,598.95 442.20,599.20 441.07,599.52 439.95,599.92 438.84,600.38 437.76,600.91 436.70,601.50 435.67,602.15 434.68,602.86 433.72,603.63 432.81,604.44 431.94,605.31 431.12,606.23 430.35,607.18 429.64,608.17 428.98,609.20 428.39,610.26 427.86,611.34 427.40,612.44 427.01,613.56 426.68,614.69 426.43,615.82 426.24,616.96 426.13,618.10 426.10,619.23 426.13,620.35 426.24,621.45 426.43,622.53 426.68,623.59 427.00,624.61 427.40,625.61 427.86,626.56 428.39,627.47 428.98,628.34 429.63,629.16 430.34,629.93 431.11,630.64 431.93,631.29 432.80,631.88 433.72,632.41 434.67,632.87 435.67,633.26 436.70,633.58 437.75,633.84 438.84,634.02 439.94,634.13 441.06,634.16 442.20,634.13 443.33,634.02 444.48,633.84 445.62,633.58 446.75,633.26 447.87,632.86 448.97,632.40 450.06,631.87 451.12,631.28 452.14,630.63 453.14,629.92 454.10,629.16 455.01,628.34 455.88,627.47 456.70,626.56 457.47,625.60 458.18,624.61 458.83,623.58 459.43,622.53 459.96,621.44 460.42,620.34 460.81,619.22 461.14,618.09 461.39,616.96 461.57,615.82 461.68,614.68 461.72,613.55 461.68,612.43 461.57,611.33 461.39,610.25 461.14,609.19 460.81,608.17 460.42,607.17 459.96,606.22 459.43,605.31 458.84,604.44 458.19,603.62Z" fill="#DBEBF1" stroke="#DBEBF1" stroke-width="0.5"/>
<path d="M499.69,602.45 498.95,601.78 498.16,601.16 497.32,600.60 496.43,600.11 495.49,599.69 494.52,599.33 493.51,599.05 492.47,598.84 491.40,598.69 490.30,598.63 489.19,598.63 488.06,598.71 486.93,598.86 485.79,599.08 484.65,599.37 483.51,599.74 482.38,600.17 481.27,600.67 480.17,601.23 479.10,601.85 478.05,602.54 477.04,603.28 476.06,604.08 475.12,604.92 474.22,605.82 473.38,606.75 472.58,607.73 471.84,608.74 471.15,609.78 470.52,610.86 469.96,611.95 469.46,613.06 469.03,614.19 468.66,615.32 468.37,616.46 468.15,617.60 468.00,618.73 467.92,619.86 467.91,620.97 467.98,622.06 468.12,623.12 468.34,624.16 468.62,625.17 468.98,626.14 469.40,627.08 469.90,627.96 470.45,628.80 471.07,629.59 471.75,630.33 472.49,631.01 473.28,631.62 474.12,632.18 475.01,632.67 475.94,633.09 476.92,633.45 477.93,633.73 478.97,633.95 480.04,634.09 481.13,634.16 482.25,634.15 483.37,634.07 484.51,633.92 485.65,633.70 486.79,633.41 487.93,633.05 489.06,632.61 490.17,632.12 491.27,631.55 492.34,630.93 493.38,630.24 494.40,629.50 495.38,628.71 496.32,627.86 497.21,626.97 498.06,626.03 498.86,625.05 499.60,624.04 500.29,623.00 500.91,621.93 501.48,620.83 501.98,619.72 502.41,618.60 502.77,617.46 503.07,616.32 503.29,615.18 503.44,614.05 503.52,612.93 503.52,611.82 503.45,610.73 503.31,609.66 503.10,608.62 502.81,607.61 502.46,606.64 502.03,605.71 501.54,604.82 500.98,603.98 500.37,603.19Z" fill="#C7E1EB" stroke="#C7E1EB" stroke-width="0.5"/>
<path d="M542.21,601.74 541.54,601.12 540.81,600.57 540.02,600.08 539.18,599.66 538.29,599.31 537.36,599.03 536.39,598.82 535.38,598.69 534.34,598.62 533.27,598.63 532.18,598.71 531.07,598.87 529.94,599.10 528.81,599.39 527.67,599.76 526.53,600.20 525.39,600.70 524.26,601.27 523.14,601.89 522.05,602.58 520.97,603.33 519.92,604.13 518.91,604.98 517.93,605.87 516.99,606.81 516.09,607.79 515.24,608.81 514.44,609.85 513.69,610.92 513.00,612.02 512.37,613.13 511.80,614.26 511.30,615.39 510.86,616.53 510.49,617.67 510.19,618.80 509.97,619.92 509.81,621.03 509.73,622.12 509.72,623.19 509.79,624.23 509.92,625.23 510.13,626.20 510.41,627.13 510.76,628.02 511.18,628.85 511.67,629.64 512.22,630.37 512.84,631.05 513.52,631.66 514.25,632.21 515.04,632.70 515.88,633.12 516.76,633.47 517.69,633.75 518.67,633.96 519.67,634.09 520.71,634.16 521.78,634.15 522.87,634.07 523.99,633.91 525.11,633.69 526.25,633.39 527.39,633.02 528.53,632.59 529.67,632.08 530.80,631.52 531.91,630.89 533.01,630.20 534.08,629.45 535.13,628.65 536.15,627.81 537.13,626.91 538.07,625.97 538.97,624.99 539.82,623.98 540.62,622.93 541.37,621.86 542.06,620.76 542.69,619.65 543.25,618.53 543.76,617.39 544.19,616.25 544.56,615.11 544.86,613.98 545.09,612.86 545.24,611.75 545.32,610.66 545.33,609.59 545.27,608.55 545.13,607.55 544.92,606.58 544.64,605.65 544.29,604.76 543.87,603.93 543.38,603.14 542.83,602.41Z" fill="#A1CEDF" stroke="#A1CEDF" stroke-width="0.5"/>
<path d="M584.29,601.47 583.64,600.88 582.93,600.36 582.17,599.90 581.35,599.51 580.48,599.19 579.57,598.94 578.61,598.76 577.62,598.65 576.59,598.62 575.54,598.66 574.45,598.77 573.35,598.96 572.23,599.21 571.10,599.54 569.96,599.94 568.82,600.40 567.68,600.93 566.54,601.52 565.42,602.18 564.32,602.89 563.23,603.66 562.17,604.48 561.14,605.35 560.15,606.26 559.19,607.22 558.27,608.22 557.40,609.24 556.58,610.30 555.81,611.38 555.09,612.49 554.44,613.60 553.84,614.73 553.31,615.87 552.85,617.01 552.45,618.15 552.12,619.28 551.86,620.40 551.68,621.50 551.56,622.58 551.53,623.63 551.56,624.66 551.66,625.65 551.84,626.60 552.09,627.51 552.42,628.38 552.81,629.19 553.27,629.96 553.79,630.66 554.38,631.31 555.03,631.90 555.74,632.43 556.51,632.88 557.32,633.27 558.19,633.60 559.10,633.85 560.06,634.02 561.05,634.13 562.08,634.16 563.14,634.12 564.22,634.01 565.32,633.83 566.44,633.57 567.58,633.24 568.71,632.85 569.86,632.38 571.00,631.85 572.13,631.26 573.25,630.60 574.36,629.89 575.44,629.12 576.50,628.30 577.53,627.43 578.53,626.52 579.48,625.56 580.40,624.57 581.27,623.54 582.10,622.48 582.87,621.40 583.58,620.30 584.24,619.18 584.83,618.05 585.36,616.91 585.83,615.77 586.22,614.63 586.55,613.50 586.81,612.39 586.99,611.29 587.11,610.21 587.15,609.15 587.11,608.13 587.01,607.13 586.83,606.18 586.58,605.27 586.26,604.40 585.87,603.59 585.41,602.83 584.88,602.12Z" fill="#91C4DA" stroke="#91C4DA" stroke-width="0.5"/>
<path d="M171.50 177.00V638.00M171.00 177.50H633.00M213.41 177.00V638.00M171.00 219.32H633.00M255.32 177.00V638.00M171.00 261.14H633.00M297.23 177.00V638.00M171.00 302.95H633.00M339.14 177.00V638.00M171.00 344.77H633.00M381.05 177.00V638.00M171.00 386.59H633.00M422.95 177.00V638.00M171.00 428.41H633.00M464.86 177.00V638.00M171.00 470.23H633.00M506.77 177.00V638.00M171.00 512.05H633.00M548.68 177.00V638.00M171.00 553.86H633.00M590.59 177.00V638.00M171.00 595.68H633.00M632.50 177.00V638.00M171.00 637.50H633.00" stroke="#cccccc" stroke-width="1.25" fill="none"/>
<text x="193.18" y="202.91" font-size="11" font-weight="bold" text-anchor="middle" fill="#1B3560">1.00</text>
<text x="234.81" y="202.91" font-size="11" font-weight="bold" text-anchor="middle" fill="#EFCCB8">-0.25</text>
<text x="276.75" y="202.91" font-size="11" font-weight="bold" text-anchor="middle" fill="#FEFEFD">-0.00</text>
<text x="318.67" y="202.91" font-size="11" font-weight="bold" text-anchor="middle" fill="#FEFEFE">0.00</text>
<text x="360.59" y="202.91" font-size="11" font-weight="bold" text-anchor="middle" fill="#F8F1EB">-0.07</text>
<text x="402.45" y="202.91" font-size="11" font-weight="bold" text-anchor="middle" fill="#F9FCFC">0.02</text>
<text x="444.38" y="202.91" font-size="11" font-weight="bold" text-anchor="middle" fill="#F0F6F8">0.06</text>
<text x="485.53" y="202.91" font-size="11" font-weight="bold" text-anchor="middle" fill="#E4EFF3">0.11</text>
<text x="528.13" y="202.91" font-size="11" font-weight="bold" text-anchor="middle" fill="#DDECF1">0.14</text>
<text x="570.07" y="202.91" font-size="11" font-weight="bold" text-anchor="middle" fill="#FEFCFA">-0.02</text>
<text x="612.00" y="202.91" font-size="11" font-weight="bold" text-anchor="middle" fill="#F4E6DA">-0.13</text>
<text x="235.09" y="244.73" font-size="11" font-weight="bold" text-anchor="middle" fill="#1B3560">1.00</text>
<text x="276.74" y="244.73" font-size="11" font-weight="bold" text-anchor="middle" fill="#E9F2F5">0.09</text>
<text x="318.64" y="244.73" font-size="11" font-weight="bold" text-anchor="middle" fill="#D1E7EE">0.19</text>
<text x="360.56" y="244.73" font-size="11" font-weight="bold" text-anchor="middle" fill="#62A1C8">0.56</text>
<text x="402.45" y="244.73" font-size="11" font-weight="bold" text-anchor="middle" fill="#F4E2D5">-0.15</text>
<text x="444.40" y="244.73" font-size="11" font-weight="bold" text-anchor="middle" fill="#CFE5EE">0.20</text>
<text x="485.53" y="244.73" font-size="11" font-weight="bold" text-anchor="middle" fill="#E4EFF3">0.11</text>
<text x="527.44" y="244.73" font-size="11" font-weight="bold" text-anchor="middle" fill="#FEFEFE">0.01</text>
<text x="570.04" y="244.73" font-size="11" font-weight="bold" text-anchor="middle" fill="#DDECF1">0.14</text>
<text x="611.99" y="244.73" font-size="11" font-weight="bold" text-anchor="middle" fill="#B9DBE6">0.28</text>
<text x="277.00" y="286.55" font-size="11" font-weight="bold" text-anchor="middle" fill="#1B3560">1.00</text>
<text x="318.64" y="286.55" font-size="11" font-weight="bold" text-anchor="middle" fill="#4F8DBD">0.65</text>
<text x="360.60" y="286.55" font-size="11" font-weight="bold" text-anchor="middle" fill="#3F72AF">0.77</text>
<text x="402.45" y="286.55" font-size="11" font-weight="bold" text-anchor="middle" fill="#FCFAF7">-0.03</text>
<text x="444.31" y="286.55" font-size="11" font-weight="bold" text-anchor="middle" fill="#F5F9FA">0.04</text>
<text x="486.25" y="286.55" font-size="11" font-weight="bold" text-anchor="middle" fill="#F5E7DC">-0.12</text>
<text x="527.44" y="286.55" font-size="11" font-weight="bold" text-anchor="middle" fill="#E4EFF3">0.11</text>
<text x="569.33" y="286.55" font-size="11" font-weight="bold" text-anchor="middle" fill="#FEFEFD">-0.01</text>
<text x="612.02" y="286.55" font-size="11" font-weight="bold" text-anchor="middle" fill="#BEDEE8">0.26</text>
<text x="318.90" y="328.36" font-size="11" font-weight="bold" text-anchor="middle" fill="#1B3560">1.00</text>
<text x="360.54" y="328.36" font-size="11" font-weight="bold" text-anchor="middle" fill="#3968A6">0.82</text>
<text x="402.44" y="328.36" font-size="11" font-weight="bold" text-anchor="middle" fill="#FEFCFA">-0.02</text>
<text x="444.35" y="328.36" font-size="11" font-weight="bold" text-anchor="middle" fill="#F8EFE8">-0.08</text>
<text x="486.25" y="328.36" font-size="11" font-weight="bold" text-anchor="middle" fill="#F5E7DC">-0.12</text>
<text x="528.18" y="328.36" font-size="11" font-weight="bold" text-anchor="middle" fill="#DDECF1">0.15</text>
<text x="570.04" y="328.36" font-size="11" font-weight="bold" text-anchor="middle" fill="#F5F9FA">0.04</text>
<text x="611.25" y="328.36" font-size="11" font-weight="bold" text-anchor="middle" fill="#CCE4ED">0.21</text>
<text x="360.81" y="370.18" font-size="11" font-weight="bold" text-anchor="middle" fill="#1B3560">1.00</text>
<text x="401.70" y="370.18" font-size="11" font-weight="bold" text-anchor="middle" fill="#F5E9DF">-0.11</text>
<text x="444.38" y="370.18" font-size="11" font-weight="bold" text-anchor="middle" fill="#F0F6F8">0.06</text>
<text x="486.32" y="370.18" font-size="11" font-weight="bold" text-anchor="middle" fill="#F8F1EB">-0.07</text>
<text x="528.19" y="370.18" font-size="11" font-weight="bold" text-anchor="middle" fill="#E2EEF2">0.13</text>
<text x="570.09" y="370.18" font-size="11" font-weight="bold" text-anchor="middle" fill="#EBF3F6">0.08</text>
<text x="612.06" y="370.18" font-size="11" font-weight="bold" text-anchor="middle" fill="#9ECCDE">0.37</text>
<text x="402.72" y="412.00" font-size="11" font-weight="bold" text-anchor="middle" fill="#1B3560">1.00</text>
<text x="443.61" y="412.00" font-size="11" font-weight="bold" text-anchor="middle" fill="#D25C4E">-0.61</text>
<text x="486.33" y="412.00" font-size="11" font-weight="bold" text-anchor="middle" fill="#EEF4F7">0.07</text>
<text x="528.16" y="412.00" font-size="11" font-weight="bold" text-anchor="middle" fill="#F1D5C3">-0.22</text>
<text x="570.09" y="412.00" font-size="11" font-weight="bold" text-anchor="middle" fill="#F2F7F9">0.05</text>
<text x="611.94" y="412.00" font-size="11" font-weight="bold" text-anchor="middle" fill="#F0CFBB">-0.24</text>
<text x="444.63" y="453.82" font-size="11" font-weight="bold" text-anchor="middle" fill="#1B3560">1.00</text>
<text x="486.27" y="453.82" font-size="11" font-weight="bold" text-anchor="middle" fill="#F6EDE5">-0.09</text>
<text x="528.19" y="453.82" font-size="11" font-weight="bold" text-anchor="middle" fill="#E2EEF2">0.13</text>
<text x="570.07" y="453.82" font-size="11" font-weight="bold" text-anchor="middle" fill="#FEFCFA">-0.02</text>
<text x="612.02" y="453.82" font-size="11" font-weight="bold" text-anchor="middle" fill="#DBEBF1">0.16</text>
<text x="486.54" y="495.64" font-size="11" font-weight="bold" text-anchor="middle" fill="#1B3560">1.00</text>
<text x="528.13" y="495.64" font-size="11" font-weight="bold" text-anchor="middle" fill="#DDECF1">0.14</text>
<text x="570.10" y="495.64" font-size="11" font-weight="bold" text-anchor="middle" fill="#B6DAE5">0.29</text>
<text x="612.01" y="495.64" font-size="11" font-weight="bold" text-anchor="middle" fill="#C7E1EB">0.23</text>
<text x="528.45" y="537.45" font-size="11" font-weight="bold" text-anchor="middle" fill="#1B3560">1.00</text>
<text x="570.15" y="537.45" font-size="11" font-weight="bold" text-anchor="middle" fill="#BCDCE7">0.27</text>
<text x="612.02" y="537.45" font-size="11" font-weight="bold" text-anchor="middle" fill="#A1CEDF">0.36</text>
<text x="570.36" y="579.27" font-size="11" font-weight="bold" text-anchor="middle" fill="#1B3560">1.00</text>
<text x="611.25" y="579.27" font-size="11" font-weight="bold" text-anchor="middle" fill="#91C4DA">0.41</text>
<text x="612.27" y="621.09" font-size="11" font-weight="bold" text-anchor="middle" fill="#1B3560">1.00</text>
<text x="193.15" y="246.93" font-size="10" font-weight="bold" letter-spacing="1.2" text-anchor="middle" fill="#000">*</text>
<text x="276.67" y="330.56" font-size="10" font-weight="bold" letter-spacing="1.2" text-anchor="middle" fill="#000">***</text>
<text x="234.91" y="372.38" font-size="10" font-weight="bold" letter-spacing="1.2" text-anchor="middle" fill="#000">***</text>
<text x="276.67" y="372.38" font-size="10" font-weight="bold" letter-spacing="1.2" text-anchor="middle" fill="#000">***</text>
<text x="318.43" y="372.38" font-size="10" font-weight="bold" letter-spacing="1.2" text-anchor="middle" fill="#000">***</text>
<text x="401.95" y="456.02" font-size="10" font-weight="bold" letter-spacing="1.2" text-anchor="middle" fill="#000">***</text>
<text x="401.95" y="539.65" font-size="10" font-weight="bold" letter-spacing="1.2" text-anchor="middle" fill="#000">*</text>
<text x="485.47" y="581.47" font-size="10" font-weight="bold" letter-spacing="1.2" text-anchor="middle" fill="#000">**</text>
<text x="527.23" y="581.47" font-size="10" font-weight="bold" letter-spacing="1.2" text-anchor="middle" fill="#000">*</text>
<text x="234.91" y="623.29" font-size="10" font-weight="bold" letter-spacing="1.2" text-anchor="middle" fill="#000">**</text>
<text x="276.67" y="623.29" font-size="10" font-weight="bold" letter-spacing="1.2" text-anchor="middle" fill="#000">*</text>
<text x="360.19" y="623.29" font-size="10" font-weight="bold" letter-spacing="1.2" text-anchor="middle" fill="#000">***</text>
<text x="401.95" y="623.29" font-size="10" font-weight="bold" letter-spacing="1.2" text-anchor="middle" fill="#000">*</text>
<text x="485.47" y="623.29" font-size="10" font-weight="bold" letter-spacing="1.2" text-anchor="middle" fill="#000">*</text>
<text x="527.23" y="623.29" font-size="10" font-weight="bold" letter-spacing="1.2" text-anchor="middle" fill="#000">***</text>
<text x="568.99" y="623.29" font-size="10" font-weight="bold" letter-spacing="1.2" text-anchor="middle" fill="#000">***</text>
<text x="166.4" y="202.41" font-size="13.3" text-anchor="end" textLength="100.43" lengthAdjust="spacing" fill="#000">GMV of thalamus</text>
<text x="166.4" y="244.23" font-size="13.3" text-anchor="end" textLength="14.74" lengthAdjust="spacing" fill="#000">MI</text>
<text x="166.4" y="286.05" font-size="13.3" text-anchor="end" textLength="12.28" lengthAdjust="spacing" fill="#000">AI</text>
<text x="166.4" y="327.86" font-size="13.3" text-anchor="end" textLength="20.47" lengthAdjust="spacing" fill="#000">NPI</text>
<text x="166.4" y="369.68" font-size="13.3" text-anchor="end" textLength="78.34" lengthAdjust="spacing" fill="#000">BIS-11 score</text>
<text x="166.4" y="411.50" font-size="13.3" text-anchor="end" textLength="132.79" lengthAdjust="spacing" fill="#000">initial age of METH use</text>
<text x="166.4" y="453.32" font-size="13.3" text-anchor="end" textLength="110.39" lengthAdjust="spacing" fill="#000">METH use duration</text>
<text x="166.4" y="495.14" font-size="13.3" text-anchor="end" textLength="166.19" lengthAdjust="spacing" fill="#000">METH average dose per use</text>
<text x="166.4" y="536.95" font-size="13.3" text-anchor="end" textLength="121.00" lengthAdjust="spacing" fill="#000">METH use frequency</text>
<text x="166.4" y="578.77" font-size="13.3" text-anchor="end" textLength="63.91" lengthAdjust="spacing" fill="#000">VAS score</text>
<text x="166.4" y="620.59" font-size="13.3" text-anchor="end" textLength="75.41" lengthAdjust="spacing" fill="#000">MUD severity</text>
<text transform="translate(198.75,170.3) rotate(-90)" font-size="13.3" textLength="101.43" lengthAdjust="spacing" fill="#000">GMV of thalamus</text>
<text transform="translate(240.66,170.3) rotate(-90)" font-size="13.3" textLength="14.44" lengthAdjust="spacing" fill="#000">MI</text>
<text transform="translate(282.57,170.3) rotate(-90)" font-size="13.3" textLength="11.88" lengthAdjust="spacing" fill="#000">AI</text>
<text transform="translate(324.98,170.3) rotate(-90)" font-size="13.3" textLength="21.97" lengthAdjust="spacing" fill="#000">NPI</text>
<text transform="translate(366.89,170.3) rotate(-90)" font-size="13.3" textLength="77.94" lengthAdjust="spacing" fill="#000">BIS-11 score</text>
<text transform="translate(406.40,170.3) rotate(-90)" font-size="13.3" textLength="137.19" lengthAdjust="spacing" fill="#000">initial age of METH use</text>
<text transform="translate(450.21,170.3) rotate(-90)" font-size="13.3" textLength="113.99" lengthAdjust="spacing" fill="#000">METH use duration</text>
<text transform="translate(490.22,170.3) rotate(-90)" font-size="13.3" textLength="171.19" lengthAdjust="spacing" fill="#000">METH average dose per use</text>
<text transform="translate(531.23,170.3) rotate(-90)" font-size="13.3" textLength="125.00" lengthAdjust="spacing" fill="#000">METH use frequency</text>
<text transform="translate(575.14,170.3) rotate(-90)" font-size="13.3" textLength="64.11" lengthAdjust="spacing" fill="#000">VAS score</text>
<text transform="translate(614.95,170.3) rotate(-90)" font-size="13.3" textLength="80.11" lengthAdjust="spacing" fill="#000">MUD severity</text>
<defs><linearGradient id="g" x1="0" y1="0" x2="0" y2="1">
<stop offset="0.000" stop-color="#1A345E"/><stop offset="0.050" stop-color="#284F82"/><stop offset="0.100" stop-color="#3C6CAC"/><stop offset="0.150" stop-color="#4884B8"/><stop offset="0.200" stop-color="#5899C3"/><stop offset="0.250" stop-color="#74B0D0"/><stop offset="0.300" stop-color="#96C8DC"/><stop offset="0.350" stop-color="#B5D9E5"/><stop offset="0.400" stop-color="#D0E6EE"/><stop offset="0.450" stop-color="#E8F1F4"/><stop offset="0.500" stop-color="#FFFFFF"/><stop offset="0.550" stop-color="#F5EAE0"/><stop offset="0.600" stop-color="#F2D9C8"/><stop offset="0.650" stop-color="#ECBCA4"/><stop offset="0.700" stop-color="#E6A080"/><stop offset="0.750" stop-color="#DE7C66"/><stop offset="0.800" stop-color="#D35E4F"/><stop offset="0.850" stop-color="#C43C3E"/><stop offset="0.900" stop-color="#B2222F"/><stop offset="0.950" stop-color="#8E1429"/><stop offset="1.000" stop-color="#6A0822"/>
</linearGradient></defs>
<rect x="640.5" y="177.5" width="16" height="460" fill="url(#g)" stroke="#333" stroke-width="1"/>
<line x1="656.5" y1="177.50" x2="659.8" y2="177.50" stroke="#333" stroke-width="1"/>
<text transform="translate(676.5,181.80) scale(0.9,1)" font-size="10" text-anchor="middle" fill="#111">1</text>
<line x1="656.5" y1="223.50" x2="659.8" y2="223.50" stroke="#333" stroke-width="1"/>
<text transform="translate(676.5,227.80) scale(0.9,1)" font-size="10" text-anchor="middle" fill="#111">0.8</text>
<line x1="656.5" y1="269.50" x2="659.8" y2="269.50" stroke="#333" stroke-width="1"/>
<text transform="translate(676.5,273.80) scale(0.9,1)" font-size="10" text-anchor="middle" fill="#111">0.6</text>
<line x1="656.5" y1="315.50" x2="659.8" y2="315.50" stroke="#333" stroke-width="1"/>
<text transform="translate(676.5,319.80) scale(0.9,1)" font-size="10" text-anchor="middle" fill="#111">0.4</text>
<line x1="656.5" y1="361.50" x2="659.8" y2="361.50" stroke="#333" stroke-width="1"/>
<text transform="translate(676.5,365.80) scale(0.9,1)" font-size="10" text-anchor="middle" fill="#111">0.2</text>
<line x1="656.5" y1="407.50" x2="659.8" y2="407.50" stroke="#333" stroke-width="1"/>
<text transform="translate(676.5,411.80) scale(0.9,1)" font-size="10" text-anchor="middle" fill="#111">0</text>
<line x1="656.5" y1="453.50" x2="659.8" y2="453.50" stroke="#333" stroke-width="1"/>
<text transform="translate(676.5,457.80) scale(0.9,1)" font-size="10" text-anchor="middle" fill="#111">-0.2</text>
<line x1="656.5" y1="499.50" x2="659.8" y2="499.50" stroke="#333" stroke-width="1"/>
<text transform="translate(676.5,503.80) scale(0.9,1)" font-size="10" text-anchor="middle" fill="#111">-0.4</text>
<line x1="656.5" y1="545.50" x2="659.8" y2="545.50" stroke="#333" stroke-width="1"/>
<text transform="translate(676.5,549.80) scale(0.9,1)" font-size="10" text-anchor="middle" fill="#111">-0.6</text>
<line x1="656.5" y1="591.50" x2="659.8" y2="591.50" stroke="#333" stroke-width="1"/>
<text transform="translate(676.5,595.80) scale(0.9,1)" font-size="10" text-anchor="middle" fill="#111">-0.8</text>
<line x1="656.5" y1="637.50" x2="659.8" y2="637.50" stroke="#333" stroke-width="1"/>
<text transform="translate(676.5,641.80) scale(0.9,1)" font-size="10" text-anchor="middle" fill="#111">-1</text>
</svg></body></html>
